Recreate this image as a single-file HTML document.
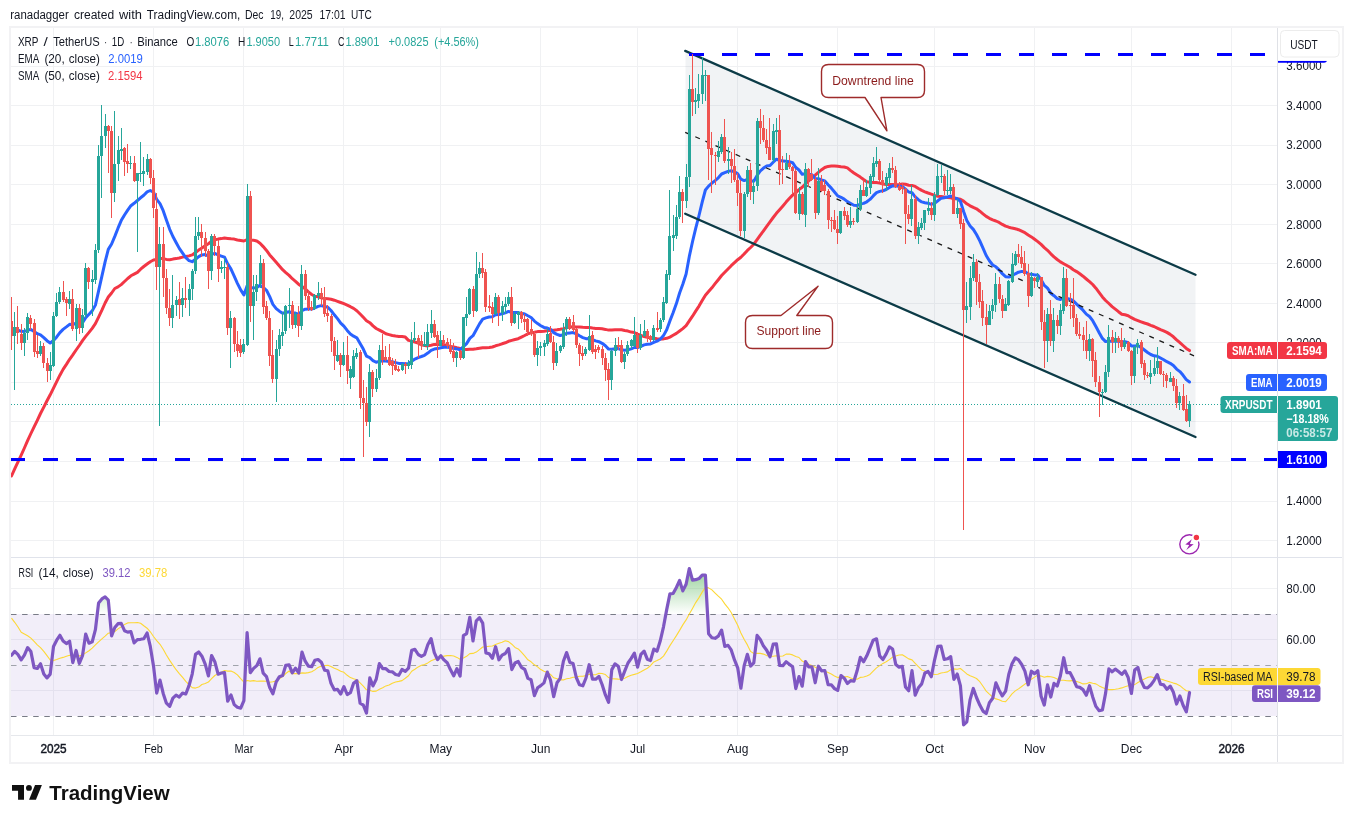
<!DOCTYPE html>
<html><head><meta charset="utf-8"><title>XRP chart</title>
<style>html,body{margin:0;padding:0;background:#fff}body{width:1353px;height:823px;overflow:hidden}svg{display:block;will-change:transform}</style></head>
<body>
<svg width="1353" height="823" viewBox="0 0 1353 823">
<rect x="0" y="0" width="1353" height="823" fill="#fff"/>
<line x1="53.5" y1="28" x2="53.5" y2="735" stroke="#f0f1f3" stroke-width="1"/>
<line x1="153.5" y1="28" x2="153.5" y2="735" stroke="#f0f1f3" stroke-width="1"/>
<line x1="243.5" y1="28" x2="243.5" y2="735" stroke="#f0f1f3" stroke-width="1"/>
<line x1="343.5" y1="28" x2="343.5" y2="735" stroke="#f0f1f3" stroke-width="1"/>
<line x1="440.5" y1="28" x2="440.5" y2="735" stroke="#f0f1f3" stroke-width="1"/>
<line x1="540.5" y1="28" x2="540.5" y2="735" stroke="#f0f1f3" stroke-width="1"/>
<line x1="637.5" y1="28" x2="637.5" y2="735" stroke="#f0f1f3" stroke-width="1"/>
<line x1="737.5" y1="28" x2="737.5" y2="735" stroke="#f0f1f3" stroke-width="1"/>
<line x1="837.5" y1="28" x2="837.5" y2="735" stroke="#f0f1f3" stroke-width="1"/>
<line x1="934.5" y1="28" x2="934.5" y2="735" stroke="#f0f1f3" stroke-width="1"/>
<line x1="1034.5" y1="28" x2="1034.5" y2="735" stroke="#f0f1f3" stroke-width="1"/>
<line x1="1131.5" y1="28" x2="1131.5" y2="735" stroke="#f0f1f3" stroke-width="1"/>
<line x1="1231.5" y1="28" x2="1231.5" y2="735" stroke="#f0f1f3" stroke-width="1"/>
<line x1="11" y1="66.5" x2="1277" y2="66.5" stroke="#f0f1f3" stroke-width="1"/>
<line x1="11" y1="105.5" x2="1277" y2="105.5" stroke="#f0f1f3" stroke-width="1"/>
<line x1="11" y1="145.5" x2="1277" y2="145.5" stroke="#f0f1f3" stroke-width="1"/>
<line x1="11" y1="184.5" x2="1277" y2="184.5" stroke="#f0f1f3" stroke-width="1"/>
<line x1="11" y1="224.5" x2="1277" y2="224.5" stroke="#f0f1f3" stroke-width="1"/>
<line x1="11" y1="263.5" x2="1277" y2="263.5" stroke="#f0f1f3" stroke-width="1"/>
<line x1="11" y1="303.5" x2="1277" y2="303.5" stroke="#f0f1f3" stroke-width="1"/>
<line x1="11" y1="342.5" x2="1277" y2="342.5" stroke="#f0f1f3" stroke-width="1"/>
<line x1="11" y1="382.5" x2="1277" y2="382.5" stroke="#f0f1f3" stroke-width="1"/>
<line x1="11" y1="421.5" x2="1277" y2="421.5" stroke="#f0f1f3" stroke-width="1"/>
<line x1="11" y1="461.5" x2="1277" y2="461.5" stroke="#f0f1f3" stroke-width="1"/>
<line x1="11" y1="501.5" x2="1277" y2="501.5" stroke="#f0f1f3" stroke-width="1"/>
<line x1="11" y1="540.5" x2="1277" y2="540.5" stroke="#f0f1f3" stroke-width="1"/>
<line x1="11" y1="588.5" x2="1277" y2="588.5" stroke="#f0f1f3" stroke-width="1"/>
<line x1="11" y1="639.5" x2="1277" y2="639.5" stroke="#f0f1f3" stroke-width="1"/>
<line x1="11" y1="690.5" x2="1277" y2="690.5" stroke="#f0f1f3" stroke-width="1"/>
<rect x="11" y="614.0" width="1266.5" height="102.0" fill="#7e57c2" fill-opacity="0.1"/>
<polygon points="685.5,50.9 1195.5,274.8 1195.5,437 685.5,213.7" fill="#73879b" fill-opacity="0.1"/>
<line x1="11" y1="404.5" x2="1277" y2="404.5" stroke="#26a69a" stroke-width="1" stroke-dasharray="1 2"/>
<path d="M11.5,476.0 L14.7,468.9 L18.0,461.9 L21.2,455.1 L24.4,448.0 L27.6,440.7 L30.9,433.5 L34.1,426.9 L37.3,420.3 L40.5,413.5 L43.8,407.1 L47.0,400.8 L50.2,394.8 L53.5,388.1 L56.7,381.6 L59.9,375.2 L63.1,369.4 L66.4,364.4 L69.6,359.3 L72.8,354.9 L76.1,350.0 L79.3,345.5 L82.5,340.7 L85.7,336.4 L89.0,332.4 L92.2,328.3 L95.4,323.7 L98.6,317.1 L101.9,310.2 L105.1,303.0 L108.3,297.0 L111.6,293.0 L114.8,288.5 L118.0,286.9 L121.2,284.6 L124.5,281.5 L127.7,278.5 L130.9,275.8 L134.1,274.1 L137.4,272.4 L140.6,269.2 L143.8,266.5 L147.1,264.0 L150.3,261.7 L153.5,260.0 L156.7,259.5 L160.0,258.5 L163.2,258.6 L166.4,259.4 L169.7,259.7 L172.9,259.1 L176.1,258.6 L179.3,258.0 L182.6,257.1 L185.8,256.5 L189.0,255.9 L192.2,254.9 L195.5,252.6 L198.7,250.1 L201.9,248.0 L205.2,245.7 L208.4,243.7 L211.6,241.2 L214.8,239.8 L218.1,239.1 L221.3,238.6 L224.5,238.0 L227.7,238.4 L231.0,238.8 L234.2,239.1 L237.4,240.0 L240.7,240.5 L243.9,241.0 L247.1,239.6 L250.3,240.1 L253.6,240.3 L256.8,241.0 L260.0,243.2 L263.2,246.6 L266.5,250.4 L269.7,254.9 L272.9,258.6 L276.2,262.3 L279.4,266.0 L282.6,269.7 L285.8,272.6 L289.1,275.4 L292.3,278.7 L295.5,281.3 L298.8,284.4 L302.0,286.4 L305.2,288.9 L308.4,291.9 L311.7,294.5 L314.9,296.3 L318.1,296.8 L321.3,297.9 L324.6,298.6 L327.8,298.7 L331.0,299.2 L334.3,300.2 L337.5,301.3 L340.7,302.5 L343.9,303.7 L347.2,305.1 L350.4,306.7 L353.6,308.4 L356.8,310.7 L360.1,314.0 L363.3,317.3 L366.5,320.7 L369.8,322.7 L373.0,325.8 L376.2,328.5 L379.4,330.1 L382.7,331.9 L385.9,333.8 L389.1,334.6 L392.3,335.5 L395.6,336.0 L398.8,336.4 L402.0,336.6 L405.3,337.1 L408.5,340.4 L411.7,341.1 L414.9,342.0 L418.2,343.2 L421.4,344.9 L424.6,345.6 L427.8,345.9 L431.1,345.2 L434.3,344.4 L437.5,344.3 L440.8,344.4 L444.0,344.6 L447.2,345.4 L450.4,346.4 L453.7,347.0 L456.9,347.8 L460.1,348.4 L463.4,349.2 L466.6,349.6 L469.8,349.2 L473.0,349.2 L476.3,348.8 L479.5,348.3 L482.7,347.8 L485.9,347.7 L489.2,347.5 L492.4,347.0 L495.6,345.8 L498.9,344.9 L502.1,343.8 L505.3,342.8 L508.5,341.3 L511.8,340.4 L515.0,339.5 L518.2,338.7 L521.4,337.1 L524.7,335.5 L527.9,333.7 L531.1,332.9 L534.4,332.3 L537.6,331.6 L540.8,331.6 L544.0,331.2 L547.3,330.7 L550.5,330.2 L553.7,330.2 L557.0,329.8 L560.2,329.3 L563.4,328.6 L566.6,327.7 L569.9,327.0 L573.1,326.8 L576.3,326.9 L579.5,327.1 L582.8,327.3 L586.0,327.4 L589.2,327.5 L592.5,328.1 L595.7,328.4 L598.9,328.5 L602.1,328.8 L605.4,329.4 L608.6,330.1 L611.8,330.0 L615.0,329.8 L618.3,329.7 L621.5,329.7 L624.7,330.5 L628.0,331.1 L631.2,332.1 L634.4,332.6 L637.6,334.1 L640.9,335.4 L644.1,336.6 L647.3,337.2 L650.5,337.9 L653.8,338.2 L657.0,338.8 L660.2,339.0 L663.5,338.9 L666.7,338.3 L669.9,337.1 L673.1,335.3 L676.4,333.4 L679.6,331.0 L682.8,328.6 L686.1,325.7 L689.3,320.9 L692.5,316.2 L695.7,311.1 L699.0,306.1 L702.2,300.6 L705.4,295.3 L708.6,291.6 L711.9,287.8 L715.1,283.7 L718.3,279.7 L721.6,275.5 L724.8,272.2 L728.0,269.0 L731.2,265.7 L734.5,262.7 L737.7,259.7 L740.9,257.2 L744.1,254.0 L747.4,250.4 L750.6,247.5 L753.8,244.2 L757.1,239.6 L760.3,235.1 L763.5,230.8 L766.7,226.3 L770.0,221.9 L773.2,217.5 L776.4,213.3 L779.6,209.7 L782.9,205.9 L786.1,202.1 L789.3,198.5 L792.6,195.1 L795.8,192.7 L799.0,189.6 L802.2,187.2 L805.5,183.9 L808.7,180.8 L811.9,177.6 L815.2,175.2 L818.4,172.3 L821.6,169.7 L824.8,167.5 L828.1,166.4 L831.3,166.1 L834.5,166.0 L837.7,166.3 L841.0,166.7 L844.2,167.0 L847.4,167.9 L850.7,170.6 L853.9,173.0 L857.1,175.1 L860.3,177.1 L863.6,179.5 L866.8,181.7 L870.0,182.3 L873.2,182.4 L876.5,182.5 L879.7,183.1 L882.9,184.0 L886.2,184.4 L889.4,184.5 L892.6,184.6 L895.8,184.8 L899.1,184.7 L902.3,183.9 L905.5,184.3 L908.7,185.3 L912.0,185.4 L915.2,186.4 L918.4,188.5 L921.7,190.4 L924.9,191.8 L928.1,193.0 L931.3,194.1 L934.6,195.4 L937.8,196.3 L941.0,196.4 L944.2,196.9 L947.5,197.4 L950.7,197.8 L953.9,198.7 L957.2,198.6 L960.4,199.2 L963.6,201.1 L966.8,203.8 L970.1,205.8 L973.3,207.4 L976.5,208.8 L979.8,211.2 L983.0,213.8 L986.2,216.4 L989.4,218.3 L992.7,219.9 L995.9,221.0 L999.1,222.4 L1002.3,224.4 L1005.6,226.1 L1008.8,227.2 L1012.0,228.1 L1015.3,228.7 L1018.5,229.7 L1021.7,231.2 L1024.9,232.7 L1028.2,234.9 L1031.4,236.9 L1034.6,239.3 L1037.8,241.6 L1041.1,244.4 L1044.3,247.6 L1047.5,250.3 L1050.8,253.8 L1054.0,256.8 L1057.2,259.5 L1060.4,261.9 L1063.7,263.7 L1066.9,265.5 L1070.1,267.3 L1073.3,269.7 L1076.6,271.6 L1079.8,273.8 L1083.0,276.2 L1086.3,279.0 L1089.5,281.6 L1092.7,284.5 L1095.9,288.2 L1099.2,292.6 L1102.4,296.9 L1105.6,300.5 L1108.9,303.5 L1112.1,306.6 L1115.3,309.1 L1118.5,311.7 L1121.8,314.2 L1125.0,314.8 L1128.2,315.7 L1131.4,317.7 L1134.7,319.4 L1137.9,320.6 L1141.1,321.8 L1144.4,323.0 L1147.6,324.0 L1150.8,325.3 L1154.0,326.5 L1157.3,328.1 L1160.5,329.6 L1163.7,330.9 L1166.9,332.4 L1170.2,334.4 L1173.4,336.8 L1176.6,339.8 L1179.9,342.6 L1183.1,345.5 L1186.3,348.4 L1189.5,350.6" fill="none" stroke="#f23645" stroke-width="3.0" stroke-linejoin="round" stroke-linecap="round"/>
<path d="M11.5,330.2 L14.7,329.9 L18.0,330.1 L21.2,331.3 L24.4,331.5 L27.6,330.1 L30.9,329.5 L34.1,331.6 L37.3,333.7 L40.5,334.8 L43.8,337.6 L47.0,340.7 L50.2,343.0 L53.5,340.5 L56.7,336.9 L59.9,332.6 L63.1,329.4 L66.4,326.9 L69.6,324.3 L72.8,324.7 L76.1,323.1 L79.3,323.6 L82.5,322.8 L85.7,317.6 L89.0,314.2 L92.2,310.9 L95.4,305.1 L98.6,290.9 L101.9,276.2 L105.1,261.9 L108.3,249.4 L111.6,244.0 L114.8,236.4 L118.0,228.2 L121.2,220.6 L124.5,215.0 L127.7,210.2 L130.9,205.7 L134.1,203.3 L137.4,200.5 L140.6,197.8 L143.8,195.3 L147.1,191.9 L150.3,190.5 L153.5,192.2 L156.7,199.3 L160.0,203.6 L163.2,210.7 L166.4,219.9 L169.7,229.3 L172.9,236.5 L176.1,242.5 L179.3,248.4 L182.6,253.2 L185.8,257.7 L189.0,260.6 L192.2,261.7 L195.5,259.3 L198.7,256.6 L201.9,254.9 L205.2,254.5 L208.4,256.1 L211.6,254.2 L214.8,253.4 L218.1,255.0 L221.3,256.1 L224.5,257.2 L227.7,263.9 L231.0,269.1 L234.2,276.2 L237.4,283.3 L240.7,289.9 L243.9,295.0 L247.1,285.7 L250.3,287.6 L253.6,288.0 L256.8,287.6 L260.0,285.3 L263.2,287.4 L266.5,290.3 L269.7,296.6 L272.9,304.4 L276.2,308.6 L279.4,311.2 L282.6,313.2 L285.8,312.5 L289.1,311.7 L292.3,313.0 L295.5,313.1 L298.8,314.4 L302.0,310.6 L305.2,309.2 L308.4,309.1 L311.7,309.1 L314.9,307.8 L318.1,306.4 L321.3,305.6 L324.6,306.5 L327.8,307.3 L331.0,310.5 L334.3,314.8 L337.5,318.6 L340.7,323.1 L343.9,326.1 L347.2,330.4 L350.4,334.0 L353.6,336.2 L356.8,337.8 L360.1,343.5 L363.3,349.1 L366.5,356.1 L369.8,357.6 L373.0,360.6 L376.2,362.3 L379.4,361.2 L382.7,361.1 L385.9,361.0 L389.1,361.4 L392.3,361.8 L395.6,362.6 L398.8,363.4 L402.0,363.4 L405.3,363.7 L408.5,363.6 L411.7,361.3 L414.9,359.1 L418.2,357.6 L421.4,356.5 L424.6,355.3 L427.8,353.1 L431.1,350.4 L434.3,349.1 L437.5,348.6 L440.8,347.7 L444.0,347.3 L447.2,347.2 L450.4,347.6 L453.7,348.6 L456.9,348.9 L460.1,349.8 L463.4,346.7 L466.6,343.6 L469.8,338.4 L473.0,335.7 L476.3,329.8 L479.5,323.9 L482.7,319.1 L485.9,317.9 L489.2,317.0 L492.4,316.7 L495.6,314.8 L498.9,314.6 L502.1,313.8 L505.3,312.9 L508.5,311.4 L511.8,312.5 L515.0,312.6 L518.2,312.6 L521.4,313.2 L524.7,314.0 L527.9,315.8 L531.1,317.5 L534.4,321.1 L537.6,323.6 L540.8,325.7 L544.0,327.4 L547.3,328.0 L550.5,329.4 L553.7,332.6 L557.0,334.3 L560.2,335.5 L563.4,334.8 L566.6,333.3 L569.9,332.9 L573.1,332.6 L576.3,333.8 L579.5,335.8 L582.8,337.6 L586.0,338.7 L589.2,338.4 L592.5,339.7 L595.7,340.9 L598.9,341.7 L602.1,343.3 L605.4,345.8 L608.6,349.1 L611.8,349.2 L615.0,348.8 L618.3,348.6 L621.5,349.8 L624.7,350.2 L628.0,349.7 L631.2,348.9 L634.4,347.5 L637.6,347.6 L640.9,346.4 L644.1,344.9 L647.3,344.3 L650.5,343.9 L653.8,342.4 L657.0,341.2 L660.2,339.2 L663.5,335.6 L666.7,329.8 L669.9,320.9 L673.1,312.7 L676.4,303.6 L679.6,293.0 L682.8,284.2 L686.1,274.0 L689.3,256.4 L692.5,241.8 L695.7,228.3 L699.0,215.5 L702.2,202.2 L705.4,190.0 L708.6,186.1 L711.9,183.2 L715.1,180.6 L718.3,177.8 L721.6,174.0 L724.8,172.7 L728.0,171.4 L731.2,170.8 L734.5,171.7 L737.7,173.8 L740.9,179.2 L744.1,180.6 L747.4,179.5 L750.6,180.7 L753.8,181.2 L757.1,175.5 L760.3,171.0 L763.5,168.1 L766.7,166.1 L770.0,165.5 L773.2,162.2 L776.4,159.2 L779.6,160.2 L782.9,161.1 L786.1,161.3 L789.3,161.8 L792.6,162.7 L795.8,167.5 L799.0,170.0 L802.2,174.3 L805.5,173.8 L808.7,174.3 L811.9,174.8 L815.2,178.4 L818.4,178.7 L821.6,179.9 L824.8,180.9 L828.1,184.7 L831.3,188.1 L834.5,192.0 L837.7,195.9 L841.0,197.3 L844.2,199.1 L847.4,201.6 L850.7,203.5 L853.9,205.3 L857.1,205.6 L860.3,204.1 L863.6,203.4 L866.8,201.8 L870.0,199.4 L873.2,195.9 L876.5,192.6 L879.7,191.4 L882.9,190.8 L886.2,189.5 L889.4,187.4 L892.6,185.8 L895.8,185.9 L899.1,186.3 L902.3,186.5 L905.5,189.1 L908.7,192.0 L912.0,192.7 L915.2,196.8 L918.4,199.7 L921.7,201.9 L924.9,202.7 L928.1,203.2 L931.3,204.3 L934.6,203.4 L937.8,200.8 L941.0,198.4 L944.2,197.7 L947.5,197.0 L950.7,196.0 L953.9,197.8 L957.2,198.8 L960.4,201.2 L963.6,211.5 L966.8,220.5 L970.1,226.0 L973.3,229.4 L976.5,234.5 L979.8,240.9 L983.0,248.2 L986.2,255.5 L989.4,260.8 L992.7,265.0 L995.9,266.8 L999.1,269.9 L1002.3,273.7 L1005.6,276.7 L1008.8,277.0 L1012.0,275.8 L1015.3,273.8 L1018.5,272.2 L1021.7,271.4 L1024.9,271.6 L1028.2,273.9 L1031.4,274.3 L1034.6,274.9 L1037.8,275.1 L1041.1,279.6 L1044.3,285.4 L1047.5,288.2 L1050.8,293.2 L1054.0,295.7 L1057.2,298.6 L1060.4,299.6 L1063.7,297.5 L1066.9,298.4 L1070.1,299.1 L1073.3,300.9 L1076.6,304.1 L1079.8,307.1 L1083.0,310.2 L1086.3,314.1 L1089.5,316.5 L1092.7,320.7 L1095.9,326.5 L1099.2,332.8 L1102.4,338.4 L1105.6,341.6 L1108.9,341.2 L1112.1,341.3 L1115.3,341.1 L1118.5,341.2 L1121.8,341.7 L1125.0,341.7 L1128.2,342.7 L1131.4,345.9 L1134.7,345.9 L1137.9,345.7 L1141.1,347.4 L1144.4,350.0 L1147.6,352.5 L1150.8,354.5 L1154.0,355.8 L1157.3,356.3 L1160.5,358.0 L1163.7,359.7 L1166.9,361.7 L1170.2,363.3 L1173.4,365.5 L1176.6,369.1 L1179.9,371.6 L1183.1,375.3 L1186.3,379.6 L1189.5,382.0" fill="none" stroke="#2962ff" stroke-width="3.0" stroke-linejoin="round" stroke-linecap="round"/>
<line x1="685.2" y1="50.9" x2="1195.5" y2="274.8" stroke="#0c3b47" stroke-width="2.3" stroke-linecap="round"/>
<line x1="685.2" y1="213.7" x2="1195.5" y2="437" stroke="#0c3b47" stroke-width="2.3" stroke-linecap="round"/>
<line x1="685.2" y1="132.3" x2="1194" y2="355.8" stroke="#1a1a1a" stroke-width="1.3" stroke-dasharray="5 6.02"/>
<line x1="689" y1="54.5" x2="1277" y2="54.5" stroke="#0000ff" stroke-width="3" stroke-dasharray="15 18"/>
<line x1="10" y1="459.5" x2="1277" y2="459.5" stroke="#0000ff" stroke-width="3" stroke-dasharray="15 18"/>
<g shape-rendering="crispEdges"><rect x="11" y="297" width="1" height="53" fill="#ef5350"/>
<rect x="10" y="321" width="3" height="15" fill="#ef5350"/>
<rect x="14" y="312" width="1" height="78" fill="#26a69a"/>
<rect x="13" y="327" width="3" height="9" fill="#26a69a"/>
<rect x="17" y="306" width="1" height="38" fill="#ef5350"/>
<rect x="16" y="327" width="3" height="6" fill="#ef5350"/>
<rect x="21" y="324" width="1" height="26" fill="#ef5350"/>
<rect x="20" y="334" width="3" height="9" fill="#ef5350"/>
<rect x="24" y="328" width="1" height="28" fill="#26a69a"/>
<rect x="23" y="333" width="3" height="10" fill="#26a69a"/>
<rect x="27" y="313" width="1" height="27" fill="#26a69a"/>
<rect x="26" y="317" width="3" height="16" fill="#26a69a"/>
<rect x="30" y="315" width="1" height="15" fill="#ef5350"/>
<rect x="29" y="318" width="3" height="6" fill="#ef5350"/>
<rect x="34" y="319" width="1" height="38" fill="#ef5350"/>
<rect x="33" y="323" width="3" height="29" fill="#ef5350"/>
<rect x="37" y="335" width="1" height="23" fill="#ef5350"/>
<rect x="36" y="351" width="3" height="3" fill="#ef5350"/>
<rect x="40" y="341" width="1" height="15" fill="#26a69a"/>
<rect x="39" y="346" width="3" height="8" fill="#26a69a"/>
<rect x="43" y="343" width="1" height="25" fill="#ef5350"/>
<rect x="42" y="346" width="3" height="17" fill="#ef5350"/>
<rect x="47" y="358" width="1" height="24" fill="#ef5350"/>
<rect x="46" y="363" width="3" height="8" fill="#ef5350"/>
<rect x="50" y="352" width="1" height="28" fill="#26a69a"/>
<rect x="49" y="365" width="3" height="6" fill="#26a69a"/>
<rect x="53" y="312" width="1" height="55" fill="#26a69a"/>
<rect x="52" y="316" width="3" height="50" fill="#26a69a"/>
<rect x="56" y="293" width="1" height="24" fill="#26a69a"/>
<rect x="55" y="302" width="3" height="14" fill="#26a69a"/>
<rect x="59" y="287" width="1" height="17" fill="#26a69a"/>
<rect x="58" y="292" width="3" height="10" fill="#26a69a"/>
<rect x="63" y="281" width="1" height="21" fill="#ef5350"/>
<rect x="62" y="292" width="3" height="8" fill="#ef5350"/>
<rect x="66" y="297" width="1" height="19" fill="#ef5350"/>
<rect x="65" y="299" width="3" height="4" fill="#ef5350"/>
<rect x="69" y="291" width="1" height="18" fill="#26a69a"/>
<rect x="68" y="299" width="3" height="5" fill="#26a69a"/>
<rect x="72" y="289" width="1" height="42" fill="#ef5350"/>
<rect x="71" y="299" width="3" height="30" fill="#ef5350"/>
<rect x="76" y="304" width="1" height="37" fill="#26a69a"/>
<rect x="75" y="308" width="3" height="21" fill="#26a69a"/>
<rect x="79" y="304" width="1" height="30" fill="#ef5350"/>
<rect x="78" y="308" width="3" height="20" fill="#ef5350"/>
<rect x="82" y="309" width="1" height="24" fill="#26a69a"/>
<rect x="81" y="315" width="3" height="13" fill="#26a69a"/>
<rect x="85" y="263" width="1" height="55" fill="#26a69a"/>
<rect x="84" y="268" width="3" height="47" fill="#26a69a"/>
<rect x="88" y="267" width="1" height="22" fill="#ef5350"/>
<rect x="87" y="268" width="3" height="14" fill="#ef5350"/>
<rect x="92" y="270" width="1" height="46" fill="#26a69a"/>
<rect x="91" y="279" width="3" height="3" fill="#26a69a"/>
<rect x="95" y="244" width="1" height="40" fill="#26a69a"/>
<rect x="94" y="250" width="3" height="30" fill="#26a69a"/>
<rect x="98" y="145" width="1" height="108" fill="#26a69a"/>
<rect x="97" y="156" width="3" height="94" fill="#26a69a"/>
<rect x="101" y="105" width="1" height="93" fill="#26a69a"/>
<rect x="100" y="136" width="3" height="20" fill="#26a69a"/>
<rect x="105" y="114" width="1" height="34" fill="#26a69a"/>
<rect x="104" y="126" width="3" height="10" fill="#26a69a"/>
<rect x="108" y="125" width="1" height="48" fill="#ef5350"/>
<rect x="107" y="126" width="3" height="5" fill="#ef5350"/>
<rect x="111" y="126" width="1" height="92" fill="#ef5350"/>
<rect x="110" y="131" width="3" height="62" fill="#ef5350"/>
<rect x="114" y="111" width="1" height="91" fill="#26a69a"/>
<rect x="113" y="164" width="3" height="29" fill="#26a69a"/>
<rect x="118" y="136" width="1" height="45" fill="#26a69a"/>
<rect x="117" y="150" width="3" height="14" fill="#26a69a"/>
<rect x="121" y="128" width="1" height="32" fill="#26a69a"/>
<rect x="120" y="149" width="3" height="2" fill="#26a69a"/>
<rect x="124" y="147" width="1" height="29" fill="#ef5350"/>
<rect x="123" y="148" width="3" height="14" fill="#ef5350"/>
<rect x="127" y="144" width="1" height="29" fill="#ef5350"/>
<rect x="126" y="161" width="3" height="3" fill="#ef5350"/>
<rect x="130" y="156" width="1" height="13" fill="#26a69a"/>
<rect x="129" y="163" width="3" height="1" fill="#26a69a"/>
<rect x="134" y="156" width="1" height="26" fill="#ef5350"/>
<rect x="133" y="163" width="3" height="18" fill="#ef5350"/>
<rect x="137" y="173" width="1" height="79" fill="#26a69a"/>
<rect x="136" y="173" width="3" height="8" fill="#26a69a"/>
<rect x="140" y="142" width="1" height="40" fill="#26a69a"/>
<rect x="139" y="173" width="3" height="1" fill="#26a69a"/>
<rect x="143" y="157" width="1" height="29" fill="#26a69a"/>
<rect x="142" y="171" width="3" height="3" fill="#26a69a"/>
<rect x="147" y="154" width="1" height="21" fill="#26a69a"/>
<rect x="146" y="159" width="3" height="13" fill="#26a69a"/>
<rect x="150" y="158" width="1" height="26" fill="#ef5350"/>
<rect x="149" y="159" width="3" height="19" fill="#ef5350"/>
<rect x="153" y="170" width="1" height="48" fill="#ef5350"/>
<rect x="152" y="178" width="3" height="30" fill="#ef5350"/>
<rect x="156" y="193" width="1" height="97" fill="#ef5350"/>
<rect x="155" y="209" width="3" height="58" fill="#ef5350"/>
<rect x="159" y="227" width="1" height="199" fill="#26a69a"/>
<rect x="158" y="244" width="3" height="23" fill="#26a69a"/>
<rect x="163" y="227" width="1" height="70" fill="#ef5350"/>
<rect x="162" y="244" width="3" height="34" fill="#ef5350"/>
<rect x="166" y="269" width="1" height="45" fill="#ef5350"/>
<rect x="165" y="278" width="3" height="30" fill="#ef5350"/>
<rect x="169" y="289" width="1" height="37" fill="#ef5350"/>
<rect x="168" y="308" width="3" height="10" fill="#ef5350"/>
<rect x="172" y="275" width="1" height="53" fill="#26a69a"/>
<rect x="171" y="305" width="3" height="13" fill="#26a69a"/>
<rect x="176" y="296" width="1" height="20" fill="#26a69a"/>
<rect x="175" y="300" width="3" height="5" fill="#26a69a"/>
<rect x="179" y="282" width="1" height="37" fill="#ef5350"/>
<rect x="178" y="299" width="3" height="6" fill="#ef5350"/>
<rect x="182" y="288" width="1" height="29" fill="#26a69a"/>
<rect x="181" y="298" width="3" height="7" fill="#26a69a"/>
<rect x="185" y="277" width="1" height="31" fill="#ef5350"/>
<rect x="184" y="298" width="3" height="2" fill="#ef5350"/>
<rect x="189" y="284" width="1" height="32" fill="#26a69a"/>
<rect x="188" y="289" width="3" height="11" fill="#26a69a"/>
<rect x="192" y="269" width="1" height="31" fill="#26a69a"/>
<rect x="191" y="271" width="3" height="18" fill="#26a69a"/>
<rect x="195" y="217" width="1" height="57" fill="#26a69a"/>
<rect x="194" y="236" width="3" height="35" fill="#26a69a"/>
<rect x="198" y="217" width="1" height="23" fill="#26a69a"/>
<rect x="197" y="232" width="3" height="4" fill="#26a69a"/>
<rect x="201" y="224" width="1" height="33" fill="#ef5350"/>
<rect x="200" y="232" width="3" height="6" fill="#ef5350"/>
<rect x="205" y="232" width="1" height="25" fill="#ef5350"/>
<rect x="204" y="238" width="3" height="13" fill="#ef5350"/>
<rect x="208" y="249" width="1" height="40" fill="#ef5350"/>
<rect x="207" y="251" width="3" height="20" fill="#ef5350"/>
<rect x="211" y="234" width="1" height="46" fill="#26a69a"/>
<rect x="210" y="236" width="3" height="35" fill="#26a69a"/>
<rect x="214" y="234" width="1" height="22" fill="#ef5350"/>
<rect x="213" y="236" width="3" height="10" fill="#ef5350"/>
<rect x="218" y="240" width="1" height="42" fill="#ef5350"/>
<rect x="217" y="246" width="3" height="23" fill="#ef5350"/>
<rect x="221" y="261" width="1" height="12" fill="#26a69a"/>
<rect x="220" y="267" width="3" height="2" fill="#26a69a"/>
<rect x="224" y="258" width="1" height="21" fill="#26a69a"/>
<rect x="223" y="267" width="3" height="1" fill="#26a69a"/>
<rect x="227" y="263" width="1" height="72" fill="#ef5350"/>
<rect x="226" y="267" width="3" height="61" fill="#ef5350"/>
<rect x="230" y="311" width="1" height="57" fill="#26a69a"/>
<rect x="229" y="318" width="3" height="10" fill="#26a69a"/>
<rect x="234" y="317" width="1" height="35" fill="#ef5350"/>
<rect x="233" y="318" width="3" height="26" fill="#ef5350"/>
<rect x="237" y="331" width="1" height="26" fill="#ef5350"/>
<rect x="236" y="344" width="3" height="7" fill="#ef5350"/>
<rect x="240" y="339" width="1" height="18" fill="#ef5350"/>
<rect x="239" y="345" width="3" height="8" fill="#ef5350"/>
<rect x="243" y="339" width="1" height="15" fill="#26a69a"/>
<rect x="242" y="344" width="3" height="8" fill="#26a69a"/>
<rect x="247" y="184" width="1" height="162" fill="#26a69a"/>
<rect x="246" y="196" width="3" height="149" fill="#26a69a"/>
<rect x="250" y="191" width="1" height="131" fill="#ef5350"/>
<rect x="249" y="196" width="3" height="110" fill="#ef5350"/>
<rect x="253" y="275" width="1" height="65" fill="#26a69a"/>
<rect x="252" y="292" width="3" height="14" fill="#26a69a"/>
<rect x="256" y="275" width="1" height="26" fill="#26a69a"/>
<rect x="255" y="284" width="3" height="8" fill="#26a69a"/>
<rect x="260" y="255" width="1" height="33" fill="#26a69a"/>
<rect x="259" y="263" width="3" height="21" fill="#26a69a"/>
<rect x="263" y="259" width="1" height="55" fill="#ef5350"/>
<rect x="262" y="263" width="3" height="44" fill="#ef5350"/>
<rect x="266" y="301" width="1" height="19" fill="#ef5350"/>
<rect x="265" y="306" width="3" height="12" fill="#ef5350"/>
<rect x="269" y="311" width="1" height="55" fill="#ef5350"/>
<rect x="268" y="318" width="3" height="38" fill="#ef5350"/>
<rect x="272" y="330" width="1" height="53" fill="#ef5350"/>
<rect x="271" y="355" width="3" height="24" fill="#ef5350"/>
<rect x="276" y="340" width="1" height="62" fill="#26a69a"/>
<rect x="275" y="349" width="3" height="30" fill="#26a69a"/>
<rect x="279" y="329" width="1" height="27" fill="#26a69a"/>
<rect x="278" y="335" width="3" height="14" fill="#26a69a"/>
<rect x="282" y="312" width="1" height="34" fill="#26a69a"/>
<rect x="281" y="332" width="3" height="4" fill="#26a69a"/>
<rect x="285" y="305" width="1" height="29" fill="#26a69a"/>
<rect x="284" y="306" width="3" height="25" fill="#26a69a"/>
<rect x="289" y="288" width="1" height="40" fill="#26a69a"/>
<rect x="288" y="305" width="3" height="1" fill="#26a69a"/>
<rect x="292" y="301" width="1" height="28" fill="#ef5350"/>
<rect x="291" y="305" width="3" height="20" fill="#ef5350"/>
<rect x="295" y="312" width="1" height="16" fill="#26a69a"/>
<rect x="294" y="314" width="3" height="11" fill="#26a69a"/>
<rect x="298" y="306" width="1" height="31" fill="#ef5350"/>
<rect x="297" y="314" width="3" height="12" fill="#ef5350"/>
<rect x="301" y="265" width="1" height="65" fill="#26a69a"/>
<rect x="300" y="274" width="3" height="52" fill="#26a69a"/>
<rect x="305" y="270" width="1" height="30" fill="#ef5350"/>
<rect x="304" y="274" width="3" height="22" fill="#ef5350"/>
<rect x="308" y="291" width="1" height="20" fill="#ef5350"/>
<rect x="307" y="296" width="3" height="12" fill="#ef5350"/>
<rect x="311" y="301" width="1" height="10" fill="#ef5350"/>
<rect x="310" y="307" width="3" height="3" fill="#ef5350"/>
<rect x="314" y="294" width="1" height="16" fill="#26a69a"/>
<rect x="313" y="295" width="3" height="14" fill="#26a69a"/>
<rect x="318" y="282" width="1" height="18" fill="#26a69a"/>
<rect x="317" y="293" width="3" height="3" fill="#26a69a"/>
<rect x="321" y="288" width="1" height="18" fill="#ef5350"/>
<rect x="320" y="293" width="3" height="5" fill="#ef5350"/>
<rect x="324" y="287" width="1" height="30" fill="#ef5350"/>
<rect x="323" y="297" width="3" height="17" fill="#ef5350"/>
<rect x="327" y="305" width="1" height="17" fill="#ef5350"/>
<rect x="326" y="313" width="3" height="3" fill="#ef5350"/>
<rect x="331" y="314" width="1" height="38" fill="#ef5350"/>
<rect x="330" y="316" width="3" height="25" fill="#ef5350"/>
<rect x="334" y="337" width="1" height="33" fill="#ef5350"/>
<rect x="333" y="341" width="3" height="15" fill="#ef5350"/>
<rect x="337" y="340" width="1" height="22" fill="#26a69a"/>
<rect x="336" y="355" width="3" height="6" fill="#26a69a"/>
<rect x="340" y="353" width="1" height="24" fill="#ef5350"/>
<rect x="339" y="355" width="3" height="10" fill="#ef5350"/>
<rect x="343" y="342" width="1" height="24" fill="#26a69a"/>
<rect x="342" y="355" width="3" height="10" fill="#26a69a"/>
<rect x="347" y="336" width="1" height="48" fill="#ef5350"/>
<rect x="346" y="355" width="3" height="16" fill="#ef5350"/>
<rect x="350" y="366" width="1" height="23" fill="#26a69a"/>
<rect x="349" y="369" width="3" height="9" fill="#26a69a"/>
<rect x="353" y="350" width="1" height="28" fill="#26a69a"/>
<rect x="352" y="356" width="3" height="21" fill="#26a69a"/>
<rect x="356" y="348" width="1" height="11" fill="#26a69a"/>
<rect x="355" y="353" width="3" height="4" fill="#26a69a"/>
<rect x="360" y="350" width="1" height="59" fill="#ef5350"/>
<rect x="359" y="352" width="3" height="46" fill="#ef5350"/>
<rect x="363" y="380" width="1" height="77" fill="#ef5350"/>
<rect x="362" y="398" width="3" height="5" fill="#ef5350"/>
<rect x="366" y="387" width="1" height="39" fill="#ef5350"/>
<rect x="365" y="403" width="3" height="19" fill="#ef5350"/>
<rect x="369" y="364" width="1" height="73" fill="#26a69a"/>
<rect x="368" y="372" width="3" height="50" fill="#26a69a"/>
<rect x="372" y="370" width="1" height="27" fill="#ef5350"/>
<rect x="371" y="372" width="3" height="17" fill="#ef5350"/>
<rect x="376" y="369" width="1" height="23" fill="#26a69a"/>
<rect x="375" y="378" width="3" height="11" fill="#26a69a"/>
<rect x="379" y="345" width="1" height="35" fill="#26a69a"/>
<rect x="378" y="350" width="3" height="28" fill="#26a69a"/>
<rect x="382" y="334" width="1" height="31" fill="#ef5350"/>
<rect x="381" y="350" width="3" height="10" fill="#ef5350"/>
<rect x="385" y="346" width="1" height="15" fill="#ef5350"/>
<rect x="384" y="357" width="3" height="3" fill="#ef5350"/>
<rect x="389" y="344" width="1" height="22" fill="#ef5350"/>
<rect x="388" y="357" width="3" height="8" fill="#ef5350"/>
<rect x="392" y="358" width="1" height="17" fill="#ef5350"/>
<rect x="391" y="361" width="3" height="5" fill="#ef5350"/>
<rect x="395" y="359" width="1" height="12" fill="#ef5350"/>
<rect x="394" y="365" width="3" height="5" fill="#ef5350"/>
<rect x="398" y="366" width="1" height="6" fill="#ef5350"/>
<rect x="397" y="369" width="3" height="2" fill="#ef5350"/>
<rect x="402" y="363" width="1" height="8" fill="#26a69a"/>
<rect x="401" y="364" width="3" height="6" fill="#26a69a"/>
<rect x="405" y="362" width="1" height="12" fill="#ef5350"/>
<rect x="404" y="364" width="3" height="2" fill="#ef5350"/>
<rect x="408" y="360" width="1" height="9" fill="#26a69a"/>
<rect x="407" y="363" width="3" height="3" fill="#26a69a"/>
<rect x="411" y="332" width="1" height="37" fill="#26a69a"/>
<rect x="410" y="340" width="3" height="25" fill="#26a69a"/>
<rect x="414" y="322" width="1" height="20" fill="#26a69a"/>
<rect x="413" y="338" width="3" height="2" fill="#26a69a"/>
<rect x="418" y="335" width="1" height="23" fill="#ef5350"/>
<rect x="417" y="338" width="3" height="6" fill="#ef5350"/>
<rect x="421" y="335" width="1" height="15" fill="#ef5350"/>
<rect x="420" y="341" width="3" height="5" fill="#ef5350"/>
<rect x="424" y="332" width="1" height="15" fill="#26a69a"/>
<rect x="423" y="344" width="3" height="2" fill="#26a69a"/>
<rect x="427" y="324" width="1" height="26" fill="#26a69a"/>
<rect x="426" y="332" width="3" height="14" fill="#26a69a"/>
<rect x="431" y="310" width="1" height="28" fill="#26a69a"/>
<rect x="430" y="324" width="3" height="9" fill="#26a69a"/>
<rect x="434" y="320" width="1" height="18" fill="#ef5350"/>
<rect x="433" y="324" width="3" height="13" fill="#ef5350"/>
<rect x="437" y="331" width="1" height="27" fill="#ef5350"/>
<rect x="436" y="335" width="3" height="9" fill="#ef5350"/>
<rect x="440" y="331" width="1" height="15" fill="#26a69a"/>
<rect x="439" y="340" width="3" height="6" fill="#26a69a"/>
<rect x="443" y="335" width="1" height="10" fill="#ef5350"/>
<rect x="442" y="340" width="3" height="3" fill="#ef5350"/>
<rect x="447" y="338" width="1" height="10" fill="#ef5350"/>
<rect x="446" y="342" width="3" height="4" fill="#ef5350"/>
<rect x="450" y="339" width="1" height="15" fill="#ef5350"/>
<rect x="449" y="345" width="3" height="7" fill="#ef5350"/>
<rect x="453" y="343" width="1" height="19" fill="#ef5350"/>
<rect x="452" y="351" width="3" height="7" fill="#ef5350"/>
<rect x="456" y="351" width="1" height="16" fill="#26a69a"/>
<rect x="455" y="352" width="3" height="6" fill="#26a69a"/>
<rect x="460" y="350" width="1" height="10" fill="#ef5350"/>
<rect x="459" y="351" width="3" height="7" fill="#ef5350"/>
<rect x="463" y="317" width="1" height="42" fill="#26a69a"/>
<rect x="462" y="317" width="3" height="41" fill="#26a69a"/>
<rect x="466" y="297" width="1" height="29" fill="#26a69a"/>
<rect x="465" y="314" width="3" height="4" fill="#26a69a"/>
<rect x="469" y="288" width="1" height="27" fill="#26a69a"/>
<rect x="468" y="289" width="3" height="25" fill="#26a69a"/>
<rect x="473" y="286" width="1" height="31" fill="#ef5350"/>
<rect x="472" y="289" width="3" height="22" fill="#ef5350"/>
<rect x="476" y="252" width="1" height="60" fill="#26a69a"/>
<rect x="475" y="274" width="3" height="37" fill="#26a69a"/>
<rect x="479" y="262" width="1" height="16" fill="#26a69a"/>
<rect x="478" y="268" width="3" height="6" fill="#26a69a"/>
<rect x="482" y="253" width="1" height="25" fill="#ef5350"/>
<rect x="481" y="268" width="3" height="5" fill="#ef5350"/>
<rect x="485" y="269" width="1" height="43" fill="#ef5350"/>
<rect x="484" y="272" width="3" height="35" fill="#ef5350"/>
<rect x="489" y="295" width="1" height="17" fill="#ef5350"/>
<rect x="488" y="306" width="3" height="2" fill="#ef5350"/>
<rect x="492" y="302" width="1" height="21" fill="#ef5350"/>
<rect x="491" y="307" width="3" height="7" fill="#ef5350"/>
<rect x="495" y="293" width="1" height="22" fill="#26a69a"/>
<rect x="494" y="297" width="3" height="17" fill="#26a69a"/>
<rect x="498" y="295" width="1" height="31" fill="#ef5350"/>
<rect x="497" y="297" width="3" height="16" fill="#ef5350"/>
<rect x="502" y="301" width="1" height="20" fill="#26a69a"/>
<rect x="501" y="306" width="3" height="7" fill="#26a69a"/>
<rect x="505" y="297" width="1" height="17" fill="#26a69a"/>
<rect x="504" y="304" width="3" height="3" fill="#26a69a"/>
<rect x="508" y="292" width="1" height="14" fill="#26a69a"/>
<rect x="507" y="297" width="3" height="7" fill="#26a69a"/>
<rect x="511" y="287" width="1" height="39" fill="#ef5350"/>
<rect x="510" y="297" width="3" height="26" fill="#ef5350"/>
<rect x="514" y="312" width="1" height="12" fill="#26a69a"/>
<rect x="513" y="314" width="3" height="9" fill="#26a69a"/>
<rect x="518" y="311" width="1" height="18" fill="#26a69a"/>
<rect x="517" y="312" width="3" height="3" fill="#26a69a"/>
<rect x="521" y="311" width="1" height="12" fill="#ef5350"/>
<rect x="520" y="312" width="3" height="7" fill="#ef5350"/>
<rect x="524" y="314" width="1" height="16" fill="#ef5350"/>
<rect x="523" y="319" width="3" height="3" fill="#ef5350"/>
<rect x="527" y="318" width="1" height="18" fill="#ef5350"/>
<rect x="526" y="319" width="3" height="13" fill="#ef5350"/>
<rect x="531" y="320" width="1" height="16" fill="#ef5350"/>
<rect x="530" y="329" width="3" height="5" fill="#ef5350"/>
<rect x="534" y="331" width="1" height="26" fill="#ef5350"/>
<rect x="533" y="334" width="3" height="21" fill="#ef5350"/>
<rect x="537" y="341" width="1" height="25" fill="#26a69a"/>
<rect x="536" y="348" width="3" height="7" fill="#26a69a"/>
<rect x="540" y="342" width="1" height="14" fill="#26a69a"/>
<rect x="539" y="346" width="3" height="2" fill="#26a69a"/>
<rect x="544" y="340" width="1" height="16" fill="#26a69a"/>
<rect x="543" y="343" width="3" height="4" fill="#26a69a"/>
<rect x="547" y="328" width="1" height="18" fill="#26a69a"/>
<rect x="546" y="334" width="3" height="10" fill="#26a69a"/>
<rect x="550" y="326" width="1" height="17" fill="#ef5350"/>
<rect x="549" y="333" width="3" height="9" fill="#ef5350"/>
<rect x="553" y="336" width="1" height="34" fill="#ef5350"/>
<rect x="552" y="342" width="3" height="21" fill="#ef5350"/>
<rect x="556" y="343" width="1" height="23" fill="#26a69a"/>
<rect x="555" y="351" width="3" height="12" fill="#26a69a"/>
<rect x="560" y="345" width="1" height="8" fill="#26a69a"/>
<rect x="559" y="346" width="3" height="5" fill="#26a69a"/>
<rect x="563" y="323" width="1" height="26" fill="#26a69a"/>
<rect x="562" y="329" width="3" height="18" fill="#26a69a"/>
<rect x="566" y="317" width="1" height="19" fill="#26a69a"/>
<rect x="565" y="319" width="3" height="10" fill="#26a69a"/>
<rect x="569" y="317" width="1" height="13" fill="#ef5350"/>
<rect x="568" y="319" width="3" height="10" fill="#ef5350"/>
<rect x="573" y="315" width="1" height="17" fill="#ef5350"/>
<rect x="572" y="322" width="3" height="8" fill="#ef5350"/>
<rect x="576" y="328" width="1" height="20" fill="#ef5350"/>
<rect x="575" y="329" width="3" height="16" fill="#ef5350"/>
<rect x="579" y="343" width="1" height="23" fill="#ef5350"/>
<rect x="578" y="345" width="3" height="9" fill="#ef5350"/>
<rect x="582" y="346" width="1" height="14" fill="#ef5350"/>
<rect x="581" y="353" width="3" height="3" fill="#ef5350"/>
<rect x="585" y="347" width="1" height="9" fill="#26a69a"/>
<rect x="584" y="349" width="3" height="5" fill="#26a69a"/>
<rect x="589" y="315" width="1" height="36" fill="#26a69a"/>
<rect x="588" y="336" width="3" height="14" fill="#26a69a"/>
<rect x="592" y="331" width="1" height="23" fill="#ef5350"/>
<rect x="591" y="335" width="3" height="17" fill="#ef5350"/>
<rect x="595" y="345" width="1" height="14" fill="#ef5350"/>
<rect x="594" y="349" width="3" height="3" fill="#ef5350"/>
<rect x="598" y="345" width="1" height="8" fill="#ef5350"/>
<rect x="597" y="347" width="3" height="3" fill="#ef5350"/>
<rect x="602" y="346" width="1" height="19" fill="#ef5350"/>
<rect x="601" y="349" width="3" height="9" fill="#ef5350"/>
<rect x="605" y="353" width="1" height="28" fill="#ef5350"/>
<rect x="604" y="358" width="3" height="12" fill="#ef5350"/>
<rect x="608" y="363" width="1" height="37" fill="#ef5350"/>
<rect x="607" y="369" width="3" height="11" fill="#ef5350"/>
<rect x="611" y="349" width="1" height="41" fill="#26a69a"/>
<rect x="610" y="351" width="3" height="29" fill="#26a69a"/>
<rect x="615" y="338" width="1" height="18" fill="#26a69a"/>
<rect x="614" y="345" width="3" height="6" fill="#26a69a"/>
<rect x="618" y="337" width="1" height="13" fill="#ef5350"/>
<rect x="617" y="345" width="3" height="2" fill="#ef5350"/>
<rect x="621" y="340" width="1" height="23" fill="#ef5350"/>
<rect x="620" y="345" width="3" height="17" fill="#ef5350"/>
<rect x="624" y="352" width="1" height="17" fill="#26a69a"/>
<rect x="623" y="354" width="3" height="8" fill="#26a69a"/>
<rect x="627" y="341" width="1" height="15" fill="#26a69a"/>
<rect x="626" y="345" width="3" height="9" fill="#26a69a"/>
<rect x="631" y="339" width="1" height="10" fill="#26a69a"/>
<rect x="630" y="340" width="3" height="6" fill="#26a69a"/>
<rect x="634" y="317" width="1" height="30" fill="#26a69a"/>
<rect x="633" y="335" width="3" height="11" fill="#26a69a"/>
<rect x="637" y="332" width="1" height="21" fill="#ef5350"/>
<rect x="636" y="335" width="3" height="13" fill="#ef5350"/>
<rect x="640" y="324" width="1" height="26" fill="#26a69a"/>
<rect x="639" y="335" width="3" height="13" fill="#26a69a"/>
<rect x="644" y="320" width="1" height="17" fill="#26a69a"/>
<rect x="643" y="331" width="3" height="5" fill="#26a69a"/>
<rect x="647" y="329" width="1" height="13" fill="#ef5350"/>
<rect x="646" y="331" width="3" height="7" fill="#ef5350"/>
<rect x="650" y="335" width="1" height="7" fill="#ef5350"/>
<rect x="649" y="336" width="3" height="4" fill="#ef5350"/>
<rect x="653" y="325" width="1" height="16" fill="#26a69a"/>
<rect x="652" y="328" width="3" height="12" fill="#26a69a"/>
<rect x="657" y="312" width="1" height="20" fill="#ef5350"/>
<rect x="656" y="328" width="3" height="2" fill="#ef5350"/>
<rect x="660" y="318" width="1" height="14" fill="#26a69a"/>
<rect x="659" y="320" width="3" height="9" fill="#26a69a"/>
<rect x="663" y="297" width="1" height="25" fill="#26a69a"/>
<rect x="662" y="302" width="3" height="18" fill="#26a69a"/>
<rect x="666" y="270" width="1" height="34" fill="#26a69a"/>
<rect x="665" y="274" width="3" height="29" fill="#26a69a"/>
<rect x="669" y="190" width="1" height="90" fill="#26a69a"/>
<rect x="668" y="236" width="3" height="39" fill="#26a69a"/>
<rect x="673" y="215" width="1" height="36" fill="#26a69a"/>
<rect x="672" y="235" width="3" height="3" fill="#26a69a"/>
<rect x="676" y="205" width="1" height="34" fill="#26a69a"/>
<rect x="675" y="217" width="3" height="19" fill="#26a69a"/>
<rect x="679" y="176" width="1" height="43" fill="#26a69a"/>
<rect x="678" y="192" width="3" height="25" fill="#26a69a"/>
<rect x="682" y="189" width="1" height="34" fill="#ef5350"/>
<rect x="681" y="192" width="3" height="9" fill="#ef5350"/>
<rect x="686" y="164" width="1" height="44" fill="#26a69a"/>
<rect x="685" y="177" width="3" height="24" fill="#26a69a"/>
<rect x="689" y="75" width="1" height="112" fill="#26a69a"/>
<rect x="688" y="89" width="3" height="88" fill="#26a69a"/>
<rect x="692" y="54" width="1" height="62" fill="#ef5350"/>
<rect x="691" y="89" width="3" height="13" fill="#ef5350"/>
<rect x="695" y="88" width="1" height="26" fill="#26a69a"/>
<rect x="694" y="100" width="3" height="2" fill="#26a69a"/>
<rect x="698" y="74" width="1" height="34" fill="#26a69a"/>
<rect x="697" y="94" width="3" height="7" fill="#26a69a"/>
<rect x="702" y="57" width="1" height="47" fill="#26a69a"/>
<rect x="701" y="75" width="3" height="19" fill="#26a69a"/>
<rect x="705" y="70" width="1" height="31" fill="#26a69a"/>
<rect x="704" y="75" width="3" height="1" fill="#26a69a"/>
<rect x="708" y="75" width="1" height="105" fill="#ef5350"/>
<rect x="707" y="75" width="3" height="74" fill="#ef5350"/>
<rect x="711" y="132" width="1" height="61" fill="#ef5350"/>
<rect x="710" y="148" width="3" height="7" fill="#ef5350"/>
<rect x="715" y="152" width="1" height="33" fill="#ef5350"/>
<rect x="714" y="155" width="3" height="1" fill="#ef5350"/>
<rect x="718" y="141" width="1" height="21" fill="#26a69a"/>
<rect x="717" y="151" width="3" height="6" fill="#26a69a"/>
<rect x="721" y="134" width="1" height="20" fill="#26a69a"/>
<rect x="720" y="137" width="3" height="15" fill="#26a69a"/>
<rect x="724" y="119" width="1" height="44" fill="#ef5350"/>
<rect x="723" y="137" width="3" height="24" fill="#ef5350"/>
<rect x="728" y="147" width="1" height="27" fill="#26a69a"/>
<rect x="727" y="159" width="3" height="2" fill="#26a69a"/>
<rect x="731" y="152" width="1" height="31" fill="#ef5350"/>
<rect x="730" y="159" width="3" height="7" fill="#ef5350"/>
<rect x="734" y="149" width="1" height="33" fill="#ef5350"/>
<rect x="733" y="166" width="3" height="14" fill="#ef5350"/>
<rect x="737" y="173" width="1" height="33" fill="#ef5350"/>
<rect x="736" y="180" width="3" height="13" fill="#ef5350"/>
<rect x="740" y="180" width="1" height="56" fill="#ef5350"/>
<rect x="739" y="193" width="3" height="38" fill="#ef5350"/>
<rect x="744" y="192" width="1" height="46" fill="#26a69a"/>
<rect x="743" y="194" width="3" height="37" fill="#26a69a"/>
<rect x="747" y="166" width="1" height="31" fill="#26a69a"/>
<rect x="746" y="170" width="3" height="24" fill="#26a69a"/>
<rect x="750" y="163" width="1" height="37" fill="#ef5350"/>
<rect x="749" y="170" width="3" height="22" fill="#ef5350"/>
<rect x="753" y="180" width="1" height="24" fill="#26a69a"/>
<rect x="752" y="186" width="3" height="6" fill="#26a69a"/>
<rect x="757" y="118" width="1" height="73" fill="#26a69a"/>
<rect x="756" y="121" width="3" height="65" fill="#26a69a"/>
<rect x="760" y="109" width="1" height="35" fill="#ef5350"/>
<rect x="759" y="121" width="3" height="7" fill="#ef5350"/>
<rect x="763" y="115" width="1" height="27" fill="#ef5350"/>
<rect x="762" y="128" width="3" height="12" fill="#ef5350"/>
<rect x="766" y="129" width="1" height="25" fill="#ef5350"/>
<rect x="765" y="140" width="3" height="8" fill="#ef5350"/>
<rect x="769" y="118" width="1" height="42" fill="#ef5350"/>
<rect x="768" y="147" width="3" height="13" fill="#ef5350"/>
<rect x="773" y="124" width="1" height="38" fill="#26a69a"/>
<rect x="772" y="131" width="3" height="29" fill="#26a69a"/>
<rect x="776" y="118" width="1" height="26" fill="#26a69a"/>
<rect x="775" y="130" width="3" height="2" fill="#26a69a"/>
<rect x="779" y="115" width="1" height="70" fill="#ef5350"/>
<rect x="778" y="130" width="3" height="40" fill="#ef5350"/>
<rect x="782" y="156" width="1" height="28" fill="#ef5350"/>
<rect x="781" y="169" width="3" height="1" fill="#ef5350"/>
<rect x="786" y="153" width="1" height="17" fill="#26a69a"/>
<rect x="785" y="163" width="3" height="7" fill="#26a69a"/>
<rect x="789" y="155" width="1" height="14" fill="#ef5350"/>
<rect x="788" y="163" width="3" height="4" fill="#ef5350"/>
<rect x="792" y="166" width="1" height="28" fill="#ef5350"/>
<rect x="791" y="167" width="3" height="4" fill="#ef5350"/>
<rect x="795" y="169" width="1" height="45" fill="#ef5350"/>
<rect x="794" y="171" width="3" height="42" fill="#ef5350"/>
<rect x="799" y="187" width="1" height="33" fill="#26a69a"/>
<rect x="798" y="194" width="3" height="20" fill="#26a69a"/>
<rect x="802" y="192" width="1" height="23" fill="#ef5350"/>
<rect x="801" y="194" width="3" height="20" fill="#ef5350"/>
<rect x="805" y="163" width="1" height="64" fill="#26a69a"/>
<rect x="804" y="169" width="3" height="46" fill="#26a69a"/>
<rect x="808" y="168" width="1" height="19" fill="#ef5350"/>
<rect x="807" y="169" width="3" height="11" fill="#ef5350"/>
<rect x="811" y="159" width="1" height="22" fill="#ef5350"/>
<rect x="810" y="174" width="3" height="6" fill="#ef5350"/>
<rect x="815" y="177" width="1" height="42" fill="#ef5350"/>
<rect x="814" y="179" width="3" height="34" fill="#ef5350"/>
<rect x="818" y="168" width="1" height="47" fill="#26a69a"/>
<rect x="817" y="181" width="3" height="32" fill="#26a69a"/>
<rect x="821" y="175" width="1" height="17" fill="#ef5350"/>
<rect x="820" y="181" width="3" height="10" fill="#ef5350"/>
<rect x="824" y="180" width="1" height="15" fill="#ef5350"/>
<rect x="823" y="185" width="3" height="6" fill="#ef5350"/>
<rect x="828" y="189" width="1" height="40" fill="#ef5350"/>
<rect x="827" y="191" width="3" height="29" fill="#ef5350"/>
<rect x="831" y="217" width="1" height="15" fill="#ef5350"/>
<rect x="830" y="220" width="3" height="1" fill="#ef5350"/>
<rect x="834" y="210" width="1" height="20" fill="#ef5350"/>
<rect x="833" y="220" width="3" height="9" fill="#ef5350"/>
<rect x="837" y="216" width="1" height="28" fill="#ef5350"/>
<rect x="836" y="229" width="3" height="4" fill="#ef5350"/>
<rect x="840" y="211" width="1" height="23" fill="#26a69a"/>
<rect x="839" y="211" width="3" height="22" fill="#26a69a"/>
<rect x="844" y="207" width="1" height="13" fill="#ef5350"/>
<rect x="843" y="211" width="3" height="5" fill="#ef5350"/>
<rect x="847" y="211" width="1" height="16" fill="#ef5350"/>
<rect x="846" y="215" width="3" height="10" fill="#ef5350"/>
<rect x="850" y="207" width="1" height="21" fill="#26a69a"/>
<rect x="849" y="221" width="3" height="4" fill="#26a69a"/>
<rect x="853" y="218" width="1" height="7" fill="#ef5350"/>
<rect x="852" y="221" width="3" height="1" fill="#ef5350"/>
<rect x="857" y="198" width="1" height="25" fill="#26a69a"/>
<rect x="856" y="209" width="3" height="13" fill="#26a69a"/>
<rect x="860" y="185" width="1" height="26" fill="#26a69a"/>
<rect x="859" y="190" width="3" height="19" fill="#26a69a"/>
<rect x="863" y="180" width="1" height="16" fill="#ef5350"/>
<rect x="862" y="190" width="3" height="6" fill="#ef5350"/>
<rect x="866" y="180" width="1" height="17" fill="#26a69a"/>
<rect x="865" y="187" width="3" height="9" fill="#26a69a"/>
<rect x="870" y="174" width="1" height="20" fill="#26a69a"/>
<rect x="869" y="176" width="3" height="12" fill="#26a69a"/>
<rect x="873" y="157" width="1" height="24" fill="#26a69a"/>
<rect x="872" y="163" width="3" height="14" fill="#26a69a"/>
<rect x="876" y="147" width="1" height="20" fill="#26a69a"/>
<rect x="875" y="161" width="3" height="3" fill="#26a69a"/>
<rect x="879" y="159" width="1" height="23" fill="#ef5350"/>
<rect x="878" y="161" width="3" height="19" fill="#ef5350"/>
<rect x="882" y="171" width="1" height="22" fill="#ef5350"/>
<rect x="881" y="180" width="3" height="5" fill="#ef5350"/>
<rect x="886" y="173" width="1" height="18" fill="#26a69a"/>
<rect x="885" y="177" width="3" height="8" fill="#26a69a"/>
<rect x="889" y="163" width="1" height="21" fill="#26a69a"/>
<rect x="888" y="168" width="3" height="10" fill="#26a69a"/>
<rect x="892" y="157" width="1" height="16" fill="#ef5350"/>
<rect x="891" y="168" width="3" height="2" fill="#ef5350"/>
<rect x="895" y="166" width="1" height="22" fill="#ef5350"/>
<rect x="894" y="170" width="3" height="17" fill="#ef5350"/>
<rect x="899" y="182" width="1" height="9" fill="#ef5350"/>
<rect x="898" y="186" width="3" height="4" fill="#ef5350"/>
<rect x="902" y="183" width="1" height="11" fill="#ef5350"/>
<rect x="901" y="187" width="3" height="2" fill="#ef5350"/>
<rect x="905" y="188" width="1" height="56" fill="#ef5350"/>
<rect x="904" y="189" width="3" height="25" fill="#ef5350"/>
<rect x="908" y="205" width="1" height="19" fill="#ef5350"/>
<rect x="907" y="214" width="3" height="5" fill="#ef5350"/>
<rect x="911" y="185" width="1" height="41" fill="#26a69a"/>
<rect x="910" y="199" width="3" height="20" fill="#26a69a"/>
<rect x="915" y="195" width="1" height="44" fill="#ef5350"/>
<rect x="914" y="199" width="3" height="37" fill="#ef5350"/>
<rect x="918" y="222" width="1" height="22" fill="#26a69a"/>
<rect x="917" y="227" width="3" height="9" fill="#26a69a"/>
<rect x="921" y="218" width="1" height="12" fill="#26a69a"/>
<rect x="920" y="223" width="3" height="5" fill="#26a69a"/>
<rect x="924" y="210" width="1" height="20" fill="#26a69a"/>
<rect x="923" y="210" width="3" height="13" fill="#26a69a"/>
<rect x="928" y="198" width="1" height="17" fill="#26a69a"/>
<rect x="927" y="208" width="3" height="3" fill="#26a69a"/>
<rect x="931" y="202" width="1" height="18" fill="#ef5350"/>
<rect x="930" y="208" width="3" height="7" fill="#ef5350"/>
<rect x="934" y="192" width="1" height="29" fill="#26a69a"/>
<rect x="933" y="195" width="3" height="20" fill="#26a69a"/>
<rect x="937" y="164" width="1" height="32" fill="#26a69a"/>
<rect x="936" y="176" width="3" height="19" fill="#26a69a"/>
<rect x="941" y="165" width="1" height="18" fill="#26a69a"/>
<rect x="940" y="176" width="3" height="1" fill="#26a69a"/>
<rect x="944" y="174" width="1" height="21" fill="#ef5350"/>
<rect x="943" y="176" width="3" height="15" fill="#ef5350"/>
<rect x="947" y="170" width="1" height="25" fill="#26a69a"/>
<rect x="946" y="190" width="3" height="1" fill="#26a69a"/>
<rect x="950" y="174" width="1" height="20" fill="#26a69a"/>
<rect x="949" y="187" width="3" height="4" fill="#26a69a"/>
<rect x="953" y="184" width="1" height="30" fill="#ef5350"/>
<rect x="952" y="187" width="3" height="27" fill="#ef5350"/>
<rect x="957" y="199" width="1" height="19" fill="#26a69a"/>
<rect x="956" y="208" width="3" height="6" fill="#26a69a"/>
<rect x="960" y="208" width="1" height="21" fill="#ef5350"/>
<rect x="959" y="208" width="3" height="16" fill="#ef5350"/>
<rect x="963" y="219" width="1" height="311" fill="#ef5350"/>
<rect x="962" y="223" width="3" height="87" fill="#ef5350"/>
<rect x="966" y="282" width="1" height="41" fill="#26a69a"/>
<rect x="965" y="306" width="3" height="4" fill="#26a69a"/>
<rect x="970" y="266" width="1" height="54" fill="#26a69a"/>
<rect x="969" y="278" width="3" height="29" fill="#26a69a"/>
<rect x="973" y="254" width="1" height="27" fill="#26a69a"/>
<rect x="972" y="262" width="3" height="16" fill="#26a69a"/>
<rect x="976" y="259" width="1" height="46" fill="#ef5350"/>
<rect x="975" y="262" width="3" height="20" fill="#ef5350"/>
<rect x="979" y="274" width="1" height="34" fill="#ef5350"/>
<rect x="978" y="282" width="3" height="20" fill="#ef5350"/>
<rect x="982" y="290" width="1" height="36" fill="#ef5350"/>
<rect x="981" y="301" width="3" height="17" fill="#ef5350"/>
<rect x="986" y="304" width="1" height="40" fill="#ef5350"/>
<rect x="985" y="317" width="3" height="8" fill="#ef5350"/>
<rect x="989" y="305" width="1" height="20" fill="#26a69a"/>
<rect x="988" y="311" width="3" height="14" fill="#26a69a"/>
<rect x="992" y="299" width="1" height="20" fill="#26a69a"/>
<rect x="991" y="305" width="3" height="6" fill="#26a69a"/>
<rect x="995" y="273" width="1" height="39" fill="#26a69a"/>
<rect x="994" y="284" width="3" height="21" fill="#26a69a"/>
<rect x="999" y="277" width="1" height="26" fill="#ef5350"/>
<rect x="998" y="284" width="3" height="15" fill="#ef5350"/>
<rect x="1002" y="295" width="1" height="23" fill="#ef5350"/>
<rect x="1001" y="299" width="3" height="12" fill="#ef5350"/>
<rect x="1005" y="298" width="1" height="13" fill="#26a69a"/>
<rect x="1004" y="304" width="3" height="7" fill="#26a69a"/>
<rect x="1008" y="280" width="1" height="26" fill="#26a69a"/>
<rect x="1007" y="281" width="3" height="24" fill="#26a69a"/>
<rect x="1012" y="253" width="1" height="30" fill="#26a69a"/>
<rect x="1011" y="264" width="3" height="18" fill="#26a69a"/>
<rect x="1015" y="251" width="1" height="15" fill="#26a69a"/>
<rect x="1014" y="254" width="3" height="11" fill="#26a69a"/>
<rect x="1018" y="244" width="1" height="19" fill="#ef5350"/>
<rect x="1017" y="254" width="3" height="3" fill="#ef5350"/>
<rect x="1021" y="246" width="1" height="22" fill="#ef5350"/>
<rect x="1020" y="257" width="3" height="7" fill="#ef5350"/>
<rect x="1024" y="251" width="1" height="25" fill="#ef5350"/>
<rect x="1023" y="263" width="3" height="11" fill="#ef5350"/>
<rect x="1028" y="264" width="1" height="43" fill="#ef5350"/>
<rect x="1027" y="273" width="3" height="23" fill="#ef5350"/>
<rect x="1031" y="272" width="1" height="25" fill="#26a69a"/>
<rect x="1030" y="277" width="3" height="19" fill="#26a69a"/>
<rect x="1034" y="277" width="1" height="11" fill="#ef5350"/>
<rect x="1033" y="278" width="3" height="3" fill="#ef5350"/>
<rect x="1037" y="273" width="1" height="14" fill="#26a69a"/>
<rect x="1036" y="277" width="3" height="5" fill="#26a69a"/>
<rect x="1041" y="277" width="1" height="53" fill="#ef5350"/>
<rect x="1040" y="277" width="3" height="45" fill="#ef5350"/>
<rect x="1044" y="310" width="1" height="58" fill="#ef5350"/>
<rect x="1043" y="322" width="3" height="19" fill="#ef5350"/>
<rect x="1047" y="308" width="1" height="54" fill="#26a69a"/>
<rect x="1046" y="314" width="3" height="27" fill="#26a69a"/>
<rect x="1050" y="300" width="1" height="46" fill="#ef5350"/>
<rect x="1049" y="314" width="3" height="27" fill="#ef5350"/>
<rect x="1053" y="308" width="1" height="44" fill="#26a69a"/>
<rect x="1052" y="320" width="3" height="21" fill="#26a69a"/>
<rect x="1057" y="315" width="1" height="19" fill="#ef5350"/>
<rect x="1056" y="320" width="3" height="6" fill="#ef5350"/>
<rect x="1060" y="304" width="1" height="31" fill="#26a69a"/>
<rect x="1059" y="310" width="3" height="16" fill="#26a69a"/>
<rect x="1063" y="267" width="1" height="47" fill="#26a69a"/>
<rect x="1062" y="278" width="3" height="33" fill="#26a69a"/>
<rect x="1066" y="269" width="1" height="38" fill="#ef5350"/>
<rect x="1065" y="278" width="3" height="28" fill="#ef5350"/>
<rect x="1070" y="293" width="1" height="26" fill="#ef5350"/>
<rect x="1069" y="305" width="3" height="1" fill="#ef5350"/>
<rect x="1073" y="278" width="1" height="49" fill="#ef5350"/>
<rect x="1072" y="305" width="3" height="13" fill="#ef5350"/>
<rect x="1076" y="314" width="1" height="22" fill="#ef5350"/>
<rect x="1075" y="318" width="3" height="16" fill="#ef5350"/>
<rect x="1079" y="322" width="1" height="17" fill="#ef5350"/>
<rect x="1078" y="334" width="3" height="2" fill="#ef5350"/>
<rect x="1083" y="327" width="1" height="24" fill="#ef5350"/>
<rect x="1082" y="335" width="3" height="5" fill="#ef5350"/>
<rect x="1086" y="321" width="1" height="38" fill="#ef5350"/>
<rect x="1085" y="340" width="3" height="11" fill="#ef5350"/>
<rect x="1089" y="334" width="1" height="27" fill="#26a69a"/>
<rect x="1088" y="339" width="3" height="12" fill="#26a69a"/>
<rect x="1092" y="338" width="1" height="39" fill="#ef5350"/>
<rect x="1091" y="339" width="3" height="22" fill="#ef5350"/>
<rect x="1095" y="352" width="1" height="35" fill="#ef5350"/>
<rect x="1094" y="360" width="3" height="22" fill="#ef5350"/>
<rect x="1099" y="376" width="1" height="41" fill="#ef5350"/>
<rect x="1098" y="382" width="3" height="10" fill="#ef5350"/>
<rect x="1102" y="389" width="1" height="16" fill="#26a69a"/>
<rect x="1101" y="392" width="3" height="1" fill="#26a69a"/>
<rect x="1105" y="365" width="1" height="28" fill="#26a69a"/>
<rect x="1104" y="372" width="3" height="20" fill="#26a69a"/>
<rect x="1108" y="325" width="1" height="52" fill="#26a69a"/>
<rect x="1107" y="337" width="3" height="35" fill="#26a69a"/>
<rect x="1112" y="330" width="1" height="23" fill="#ef5350"/>
<rect x="1111" y="337" width="3" height="5" fill="#ef5350"/>
<rect x="1115" y="332" width="1" height="21" fill="#26a69a"/>
<rect x="1114" y="338" width="3" height="4" fill="#26a69a"/>
<rect x="1118" y="336" width="1" height="12" fill="#ef5350"/>
<rect x="1117" y="338" width="3" height="4" fill="#ef5350"/>
<rect x="1121" y="328" width="1" height="23" fill="#ef5350"/>
<rect x="1120" y="340" width="3" height="7" fill="#ef5350"/>
<rect x="1124" y="338" width="1" height="11" fill="#26a69a"/>
<rect x="1123" y="342" width="3" height="5" fill="#26a69a"/>
<rect x="1128" y="341" width="1" height="11" fill="#ef5350"/>
<rect x="1127" y="342" width="3" height="9" fill="#ef5350"/>
<rect x="1131" y="350" width="1" height="35" fill="#ef5350"/>
<rect x="1130" y="351" width="3" height="25" fill="#ef5350"/>
<rect x="1134" y="346" width="1" height="37" fill="#26a69a"/>
<rect x="1133" y="347" width="3" height="29" fill="#26a69a"/>
<rect x="1137" y="339" width="1" height="15" fill="#26a69a"/>
<rect x="1136" y="343" width="3" height="4" fill="#26a69a"/>
<rect x="1141" y="340" width="1" height="28" fill="#ef5350"/>
<rect x="1140" y="342" width="3" height="22" fill="#ef5350"/>
<rect x="1144" y="360" width="1" height="20" fill="#ef5350"/>
<rect x="1143" y="363" width="3" height="12" fill="#ef5350"/>
<rect x="1147" y="372" width="1" height="6" fill="#ef5350"/>
<rect x="1146" y="375" width="3" height="1" fill="#ef5350"/>
<rect x="1150" y="360" width="1" height="24" fill="#26a69a"/>
<rect x="1149" y="373" width="3" height="4" fill="#26a69a"/>
<rect x="1154" y="357" width="1" height="19" fill="#26a69a"/>
<rect x="1153" y="368" width="3" height="6" fill="#26a69a"/>
<rect x="1157" y="347" width="1" height="27" fill="#26a69a"/>
<rect x="1156" y="361" width="3" height="7" fill="#26a69a"/>
<rect x="1160" y="361" width="1" height="14" fill="#ef5350"/>
<rect x="1159" y="361" width="3" height="13" fill="#ef5350"/>
<rect x="1163" y="371" width="1" height="16" fill="#ef5350"/>
<rect x="1162" y="374" width="3" height="1" fill="#ef5350"/>
<rect x="1166" y="373" width="1" height="15" fill="#ef5350"/>
<rect x="1165" y="375" width="3" height="6" fill="#ef5350"/>
<rect x="1170" y="372" width="1" height="10" fill="#26a69a"/>
<rect x="1169" y="378" width="3" height="4" fill="#26a69a"/>
<rect x="1173" y="376" width="1" height="15" fill="#ef5350"/>
<rect x="1172" y="378" width="3" height="8" fill="#ef5350"/>
<rect x="1176" y="379" width="1" height="29" fill="#ef5350"/>
<rect x="1175" y="386" width="3" height="17" fill="#ef5350"/>
<rect x="1179" y="392" width="1" height="18" fill="#26a69a"/>
<rect x="1178" y="396" width="3" height="7" fill="#26a69a"/>
<rect x="1183" y="384" width="1" height="27" fill="#ef5350"/>
<rect x="1182" y="396" width="3" height="14" fill="#ef5350"/>
<rect x="1186" y="395" width="1" height="27" fill="#ef5350"/>
<rect x="1185" y="409" width="3" height="12" fill="#ef5350"/>
<rect x="1189" y="401" width="1" height="26" fill="#26a69a"/>
<rect x="1188" y="404" width="3" height="17" fill="#26a69a"/></g>
<path d="M828.5,64.5 H917.5 Q924.5,64.5 924.5,71.5 V90.5 Q924.5,97.5 917.5,97.5 H881 L886.9,130.8 L865,97.5 H828.5 Q821.5,97.5 821.5,90.5 V71.5 Q821.5,64.5 828.5,64.5 Z" fill="#fff" stroke="#9e2b2b" stroke-width="1.4" stroke-linejoin="round"/>
<text x="873" y="85.2" font-family="Liberation Sans, sans-serif" font-size="12.5" fill="#8b1a1a" text-anchor="middle" textLength="81.5" lengthAdjust="spacingAndGlyphs">Downtrend line</text>
<path d="M752.5,315.5 H781 L818.1,286.2 L796.8,315.5 H825.5 Q832.5,315.5 832.5,322.5 V341.5 Q832.5,348.5 825.5,348.5 H752.5 Q745.5,348.5 745.5,341.5 V322.5 Q745.5,315.5 752.5,315.5 Z" fill="#fff" stroke="#9e2b2b" stroke-width="1.4" stroke-linejoin="round"/>
<text x="788.8" y="334.6" font-family="Liberation Sans, sans-serif" font-size="12.5" fill="#8b1a1a" text-anchor="middle" textLength="64.6" lengthAdjust="spacingAndGlyphs">Support line</text>
<circle cx="1189.8" cy="543.8" r="11.5" fill="#fff"/>
<circle cx="1189.4" cy="544.3" r="9.6" fill="none" stroke="#9c27b0" stroke-width="1.4"/>
<circle cx="1196.4" cy="537.5" r="4.6" fill="#fff"/>
<circle cx="1196.4" cy="537.5" r="2.7" fill="#f23645"/>
<polygon points="1191.8,539.2 1185.3,544.6 1189.2,544.9 1186.3,549.9 1193.7,544.3 1189.9,543.9" fill="#9c27b0"/>
<line x1="11" y1="614.5" x2="1277" y2="614.5" stroke="#787b86" stroke-width="1" stroke-dasharray="5.5 5.6"/>
<line x1="11" y1="665.5" x2="1277" y2="665.5" stroke="#a0a3ab" stroke-width="1" stroke-dasharray="5.5 5.6"/>
<line x1="11" y1="716.5" x2="1277" y2="716.5" stroke="#787b86" stroke-width="1" stroke-dasharray="5.5 5.6"/>
<defs><linearGradient id="ob" gradientUnits="userSpaceOnUse" x1="0" y1="537.5" x2="0" y2="614.0"><stop offset="0" stop-color="#4caf50" stop-opacity="1"/><stop offset="1" stop-color="#4caf50" stop-opacity="0"/></linearGradient> <clipPath id="obc"><rect x="11" y="558" width="1266" height="56.0"/></clipPath></defs>
<path d="M11.5,655.2 L14.7,651.4 L18.0,654.6 L21.2,659.8 L24.4,655.1 L27.6,647.6 L30.9,651.6 L34.1,667.6 L37.3,668.5 L40.5,663.8 L43.8,673.9 L47.0,677.9 L50.2,674.1 L53.5,646.5 L56.7,640.2 L59.9,635.3 L63.1,641.0 L66.4,643.6 L69.6,641.3 L72.8,662.6 L76.1,650.5 L79.3,663.4 L82.5,655.7 L85.7,634.0 L89.0,643.2 L92.2,641.8 L95.4,629.7 L98.6,602.9 L101.9,598.9 L105.1,596.9 L108.3,600.1 L111.6,635.8 L114.8,627.5 L118.0,623.7 L121.2,623.3 L124.5,630.7 L127.7,632.1 L130.9,631.6 L134.1,642.9 L137.4,639.7 L140.6,639.3 L143.8,638.7 L147.1,633.0 L150.3,646.4 L153.5,665.9 L156.7,693.1 L160.0,680.1 L163.2,693.4 L166.4,703.2 L169.7,706.4 L172.9,698.2 L176.1,695.2 L179.3,697.1 L182.6,693.1 L185.8,694.0 L189.0,685.7 L192.2,674.1 L195.5,654.4 L198.7,652.0 L201.9,656.2 L205.2,664.2 L208.4,675.9 L211.6,655.6 L214.8,661.7 L218.1,674.2 L221.3,673.0 L224.5,672.7 L227.7,701.2 L231.0,695.0 L234.2,704.6 L237.4,707.3 L240.7,708.2 L243.9,700.7 L247.1,632.7 L250.3,672.7 L253.6,668.4 L256.8,665.6 L260.0,658.8 L263.2,673.2 L266.5,676.6 L269.7,687.6 L272.9,693.8 L276.2,681.8 L279.4,676.7 L282.6,675.6 L285.8,665.3 L289.1,664.8 L292.3,672.8 L295.5,668.2 L298.8,673.1 L302.0,652.1 L305.2,661.2 L308.4,666.2 L311.7,666.7 L314.9,660.3 L318.1,659.5 L321.3,662.2 L324.6,670.2 L327.8,670.8 L331.0,683.3 L334.3,689.8 L337.5,689.3 L340.7,694.0 L343.9,686.6 L347.2,694.5 L350.4,692.7 L353.6,683.3 L356.8,680.6 L360.1,703.2 L363.3,705.2 L366.5,713.1 L369.8,677.9 L373.0,685.9 L376.2,679.2 L379.4,663.6 L382.7,668.7 L385.9,668.7 L389.1,671.5 L392.3,671.8 L395.6,674.5 L398.8,675.3 L402.0,669.5 L405.3,671.4 L408.5,668.2 L411.7,650.2 L414.9,649.4 L418.2,654.5 L421.4,656.3 L424.6,654.6 L427.8,644.7 L431.1,638.6 L434.3,652.7 L437.5,659.6 L440.8,655.8 L444.0,659.9 L447.2,662.7 L450.4,669.6 L453.7,675.8 L456.9,668.7 L460.1,676.1 L463.4,635.7 L466.6,633.6 L469.8,617.3 L473.0,641.0 L476.3,620.8 L479.5,617.7 L482.7,623.1 L485.9,652.9 L489.2,653.8 L492.4,658.2 L495.6,646.7 L498.9,659.8 L502.1,655.2 L505.3,653.5 L508.5,648.6 L511.8,669.6 L515.0,663.0 L518.2,661.5 L521.4,667.3 L524.7,669.3 L527.9,678.4 L531.1,679.8 L534.4,695.6 L537.6,687.8 L540.8,685.6 L544.0,682.9 L547.3,672.1 L550.5,680.0 L553.7,696.7 L557.0,682.8 L560.2,678.4 L563.4,661.3 L566.6,652.6 L569.9,662.4 L573.1,663.6 L576.3,677.5 L579.5,684.8 L582.8,685.8 L586.0,678.0 L589.2,664.7 L592.5,679.2 L595.7,679.2 L598.9,676.4 L602.1,684.5 L605.4,694.9 L608.6,702.4 L611.8,669.6 L615.0,663.9 L618.3,666.2 L621.5,679.5 L624.7,671.2 L628.0,663.0 L631.2,658.4 L634.4,653.1 L637.6,667.2 L640.9,654.4 L644.1,651.1 L647.3,659.2 L650.5,660.5 L653.8,649.1 L657.0,651.2 L660.2,641.1 L663.5,626.8 L666.7,609.6 L669.9,593.9 L673.1,593.5 L676.4,587.4 L679.6,580.5 L682.8,590.9 L686.1,584.2 L689.3,568.5 L692.5,580.1 L695.7,579.7 L699.0,578.6 L702.2,575.2 L705.4,575.2 L708.6,633.7 L711.9,637.7 L715.1,638.3 L718.3,636.2 L721.6,630.1 L724.8,646.4 L728.0,645.3 L731.2,649.9 L734.5,659.9 L737.7,667.8 L740.9,688.2 L744.1,666.0 L747.4,654.3 L750.6,666.0 L753.8,662.8 L757.1,635.4 L760.3,639.5 L763.5,646.1 L766.7,650.2 L770.0,656.9 L773.2,644.1 L776.4,643.8 L779.6,665.4 L782.9,665.6 L786.1,661.8 L789.3,664.2 L792.6,666.8 L795.8,688.6 L799.0,676.6 L802.2,686.2 L805.5,661.7 L808.7,666.8 L811.9,666.8 L815.2,682.8 L818.4,666.2 L821.6,670.9 L824.8,670.5 L828.1,684.6 L831.3,684.8 L834.5,688.6 L837.7,690.4 L841.0,675.6 L844.2,678.2 L847.4,683.5 L850.7,680.6 L853.9,681.2 L857.1,670.8 L860.3,657.3 L863.6,661.7 L866.8,655.8 L870.0,648.2 L873.2,640.2 L876.5,638.8 L879.7,655.9 L882.9,659.5 L886.2,653.9 L889.4,646.9 L892.6,649.0 L895.8,664.6 L899.1,667.2 L902.3,666.4 L905.5,686.9 L908.7,690.8 L912.0,670.7 L915.2,695.2 L918.4,687.8 L921.7,683.9 L924.9,673.0 L928.1,671.5 L931.3,676.7 L934.6,659.8 L937.8,646.4 L941.0,646.1 L944.2,659.4 L947.5,658.8 L950.7,656.7 L953.9,679.3 L957.2,674.0 L960.4,685.7 L963.6,724.9 L966.8,721.8 L970.1,699.6 L973.3,688.5 L976.5,697.5 L979.8,705.1 L983.0,711.1 L986.2,713.5 L989.4,702.8 L992.7,698.3 L995.9,682.9 L999.1,690.2 L1002.3,695.9 L1005.6,691.1 L1008.8,674.2 L1012.0,663.8 L1015.3,657.9 L1018.5,659.9 L1021.7,664.5 L1024.9,671.1 L1028.2,684.8 L1031.4,671.2 L1034.6,673.6 L1037.8,670.8 L1041.1,696.3 L1044.3,705.1 L1047.5,684.9 L1050.8,697.0 L1054.0,683.4 L1057.2,686.0 L1060.4,675.8 L1063.7,657.7 L1066.9,672.7 L1070.1,672.7 L1073.3,679.0 L1076.6,686.7 L1079.8,687.4 L1083.0,689.6 L1086.3,695.2 L1089.5,685.7 L1092.7,696.9 L1095.9,706.4 L1099.2,710.7 L1102.4,710.0 L1105.6,693.1 L1108.9,668.8 L1112.1,671.8 L1115.3,669.1 L1118.5,671.5 L1121.8,674.4 L1125.0,670.9 L1128.2,677.5 L1131.4,693.5 L1134.7,670.0 L1137.9,667.4 L1141.1,680.6 L1144.4,687.5 L1147.6,687.9 L1150.8,685.0 L1154.0,680.6 L1157.3,674.6 L1160.5,684.2 L1163.7,684.9 L1166.9,689.3 L1170.2,686.1 L1173.4,692.3 L1176.6,704.0 L1179.9,695.9 L1183.1,705.3 L1186.3,711.9 L1189.5,692.7 L1189.8,614.0 L11,614.0 Z" fill="url(#ob)" clip-path="url(#obc)"/>
<path d="M11.5,618.2 L14.7,622.3 L18.0,627.0 L21.2,632.2 L24.4,633.9 L27.6,635.7 L30.9,638.1 L34.1,641.4 L37.3,644.8 L40.5,647.6 L43.8,651.4 L47.0,655.7 L50.2,660.0 L53.5,660.6 L56.7,659.5 L59.9,658.3 L63.1,657.4 L66.4,656.2 L69.6,655.2 L72.8,656.3 L76.1,656.2 L79.3,655.9 L82.5,655.0 L85.7,652.9 L89.0,650.7 L92.2,648.1 L95.4,644.9 L98.6,641.8 L101.9,638.8 L105.1,636.1 L108.3,633.2 L111.6,632.6 L114.8,631.6 L118.0,628.9 L121.2,626.9 L124.5,624.6 L127.7,622.9 L130.9,622.7 L134.1,622.7 L137.4,622.5 L140.6,623.2 L143.8,625.8 L147.1,628.2 L150.3,631.8 L153.5,636.5 L156.7,640.6 L160.0,644.3 L163.2,649.3 L166.4,655.0 L169.7,660.4 L172.9,665.1 L176.1,669.7 L179.3,673.6 L182.6,677.4 L185.8,681.3 L189.0,684.6 L192.2,687.6 L195.5,688.1 L198.7,687.1 L201.9,684.5 L205.2,683.4 L208.4,682.1 L211.6,678.7 L214.8,675.5 L218.1,673.8 L221.3,672.2 L224.5,670.5 L227.7,671.1 L231.0,671.1 L234.2,672.5 L237.4,674.9 L240.7,678.7 L243.9,682.2 L247.1,680.5 L250.3,681.1 L253.6,680.6 L256.8,681.3 L260.0,681.1 L263.2,681.0 L266.5,681.3 L269.7,682.3 L272.9,681.8 L276.2,680.9 L279.4,678.9 L282.6,676.6 L285.8,673.5 L289.1,671.0 L292.3,673.8 L295.5,673.5 L298.8,673.8 L302.0,672.9 L305.2,673.1 L308.4,672.6 L311.7,671.8 L314.9,669.9 L318.1,667.4 L321.3,666.1 L324.6,665.6 L327.8,665.2 L331.0,666.5 L334.3,668.3 L337.5,669.5 L340.7,671.3 L343.9,672.3 L347.2,675.3 L350.4,677.6 L353.6,678.8 L356.8,679.8 L360.1,682.9 L363.3,686.1 L366.5,689.8 L369.8,690.3 L373.0,691.4 L376.2,691.1 L379.4,689.2 L382.7,687.8 L385.9,685.9 L389.1,684.9 L392.3,683.2 L395.6,682.0 L398.8,681.4 L402.0,680.6 L405.3,678.3 L408.5,675.7 L411.7,671.2 L414.9,669.2 L418.2,666.9 L421.4,665.3 L424.6,664.6 L427.8,662.9 L431.1,660.8 L434.3,659.4 L437.5,658.6 L440.8,657.2 L444.0,656.1 L447.2,655.6 L450.4,655.5 L453.7,656.0 L456.9,657.4 L460.1,659.3 L463.4,657.9 L466.6,656.3 L469.8,653.6 L473.0,653.4 L476.3,652.1 L479.5,649.6 L482.7,647.0 L485.9,646.8 L489.2,646.3 L492.4,646.0 L495.6,644.4 L498.9,643.2 L502.1,642.3 L505.3,640.7 L508.5,641.6 L511.8,644.2 L515.0,647.4 L518.2,648.9 L521.4,652.2 L524.7,655.9 L527.9,659.8 L531.1,661.8 L534.4,664.8 L537.6,666.9 L540.8,669.6 L544.0,671.3 L547.3,672.5 L550.5,674.4 L553.7,677.8 L557.0,678.8 L560.2,679.9 L563.4,679.9 L566.6,678.8 L569.9,678.3 L573.1,677.3 L576.3,677.1 L579.5,676.3 L582.8,676.2 L586.0,675.6 L589.2,674.3 L592.5,674.8 L595.7,674.8 L598.9,673.3 L602.1,673.5 L605.4,674.6 L608.6,677.6 L611.8,678.8 L615.0,678.9 L618.3,679.1 L621.5,679.2 L624.7,678.3 L628.0,676.6 L631.2,675.2 L634.4,674.4 L637.6,673.5 L640.9,671.8 L644.1,670.0 L647.3,668.2 L650.5,665.7 L653.8,661.9 L657.0,660.6 L660.2,659.0 L663.5,656.1 L666.7,651.1 L669.9,645.6 L673.1,640.7 L676.4,635.6 L679.6,630.4 L682.8,624.9 L686.1,619.9 L689.3,614.0 L692.5,608.4 L695.7,602.6 L699.0,597.6 L702.2,592.1 L705.4,587.4 L708.6,587.9 L711.9,589.9 L715.1,593.1 L718.3,596.2 L721.6,599.2 L724.8,603.9 L728.0,607.8 L731.2,612.5 L734.5,619.0 L737.7,625.3 L740.9,633.0 L744.1,639.3 L747.4,644.9 L750.6,651.4 L753.8,653.5 L757.1,653.3 L760.3,653.4 L763.5,654.1 L766.7,655.6 L770.0,656.3 L773.2,656.2 L776.4,655.8 L779.6,656.2 L782.9,656.0 L786.1,654.1 L789.3,654.0 L792.6,654.9 L795.8,656.5 L799.0,657.5 L802.2,661.1 L805.5,662.7 L808.7,664.2 L811.9,665.4 L815.2,667.2 L818.4,668.8 L821.6,670.8 L824.8,671.1 L828.1,672.5 L831.3,674.1 L834.5,675.9 L837.7,677.6 L841.0,676.6 L844.2,676.7 L847.4,676.5 L850.7,677.9 L853.9,678.9 L857.1,679.2 L860.3,677.4 L863.6,677.0 L866.8,676.0 L870.0,674.4 L873.2,671.2 L876.5,667.9 L879.7,665.6 L882.9,663.4 L886.2,661.8 L889.4,659.6 L892.6,657.1 L895.8,656.0 L899.1,655.0 L902.3,654.7 L905.5,656.8 L908.7,658.9 L912.0,659.9 L915.2,663.3 L918.4,666.7 L921.7,669.9 L924.9,671.1 L928.1,672.0 L931.3,673.6 L934.6,674.5 L937.8,674.3 L941.0,673.0 L944.2,672.5 L947.5,671.9 L950.7,669.8 L953.9,668.9 L957.2,669.2 L960.4,668.5 L963.6,671.2 L966.8,673.9 L970.1,675.8 L973.3,677.0 L976.5,678.5 L979.8,681.7 L983.0,686.3 L986.2,691.1 L989.4,694.2 L992.7,697.1 L995.9,698.9 L999.1,699.7 L1002.3,701.3 L1005.6,701.7 L1008.8,698.0 L1012.0,693.9 L1015.3,690.9 L1018.5,688.9 L1021.7,686.5 L1024.9,684.1 L1028.2,682.2 L1031.4,679.2 L1034.6,677.1 L1037.8,675.1 L1041.1,676.1 L1044.3,677.2 L1047.5,676.4 L1050.8,676.8 L1054.0,677.5 L1057.2,679.0 L1060.4,680.3 L1063.7,680.2 L1066.9,680.8 L1070.1,680.9 L1073.3,680.4 L1076.6,681.5 L1079.8,682.5 L1083.0,683.9 L1086.3,683.8 L1089.5,682.4 L1092.7,683.3 L1095.9,683.9 L1099.2,685.9 L1102.4,687.6 L1105.6,688.8 L1108.9,689.6 L1112.1,689.6 L1115.3,689.3 L1118.5,688.8 L1121.8,687.9 L1125.0,686.7 L1128.2,685.8 L1131.4,685.7 L1134.7,684.6 L1137.9,682.5 L1141.1,680.7 L1144.4,679.0 L1147.6,677.4 L1150.8,676.8 L1154.0,677.7 L1157.3,677.9 L1160.5,679.0 L1163.7,679.9 L1166.9,681.0 L1170.2,682.1 L1173.4,683.1 L1176.6,683.9 L1179.9,685.7 L1183.1,688.4 L1186.3,690.7 L1189.5,691.1" fill="none" stroke="#fdd835" stroke-width="1.1" stroke-linejoin="round"/>
<path d="M11.5,655.2 L14.7,651.4 L18.0,654.6 L21.2,659.8 L24.4,655.1 L27.6,647.6 L30.9,651.6 L34.1,667.6 L37.3,668.5 L40.5,663.8 L43.8,673.9 L47.0,677.9 L50.2,674.1 L53.5,646.5 L56.7,640.2 L59.9,635.3 L63.1,641.0 L66.4,643.6 L69.6,641.3 L72.8,662.6 L76.1,650.5 L79.3,663.4 L82.5,655.7 L85.7,634.0 L89.0,643.2 L92.2,641.8 L95.4,629.7 L98.6,602.9 L101.9,598.9 L105.1,596.9 L108.3,600.1 L111.6,635.8 L114.8,627.5 L118.0,623.7 L121.2,623.3 L124.5,630.7 L127.7,632.1 L130.9,631.6 L134.1,642.9 L137.4,639.7 L140.6,639.3 L143.8,638.7 L147.1,633.0 L150.3,646.4 L153.5,665.9 L156.7,693.1 L160.0,680.1 L163.2,693.4 L166.4,703.2 L169.7,706.4 L172.9,698.2 L176.1,695.2 L179.3,697.1 L182.6,693.1 L185.8,694.0 L189.0,685.7 L192.2,674.1 L195.5,654.4 L198.7,652.0 L201.9,656.2 L205.2,664.2 L208.4,675.9 L211.6,655.6 L214.8,661.7 L218.1,674.2 L221.3,673.0 L224.5,672.7 L227.7,701.2 L231.0,695.0 L234.2,704.6 L237.4,707.3 L240.7,708.2 L243.9,700.7 L247.1,632.7 L250.3,672.7 L253.6,668.4 L256.8,665.6 L260.0,658.8 L263.2,673.2 L266.5,676.6 L269.7,687.6 L272.9,693.8 L276.2,681.8 L279.4,676.7 L282.6,675.6 L285.8,665.3 L289.1,664.8 L292.3,672.8 L295.5,668.2 L298.8,673.1 L302.0,652.1 L305.2,661.2 L308.4,666.2 L311.7,666.7 L314.9,660.3 L318.1,659.5 L321.3,662.2 L324.6,670.2 L327.8,670.8 L331.0,683.3 L334.3,689.8 L337.5,689.3 L340.7,694.0 L343.9,686.6 L347.2,694.5 L350.4,692.7 L353.6,683.3 L356.8,680.6 L360.1,703.2 L363.3,705.2 L366.5,713.1 L369.8,677.9 L373.0,685.9 L376.2,679.2 L379.4,663.6 L382.7,668.7 L385.9,668.7 L389.1,671.5 L392.3,671.8 L395.6,674.5 L398.8,675.3 L402.0,669.5 L405.3,671.4 L408.5,668.2 L411.7,650.2 L414.9,649.4 L418.2,654.5 L421.4,656.3 L424.6,654.6 L427.8,644.7 L431.1,638.6 L434.3,652.7 L437.5,659.6 L440.8,655.8 L444.0,659.9 L447.2,662.7 L450.4,669.6 L453.7,675.8 L456.9,668.7 L460.1,676.1 L463.4,635.7 L466.6,633.6 L469.8,617.3 L473.0,641.0 L476.3,620.8 L479.5,617.7 L482.7,623.1 L485.9,652.9 L489.2,653.8 L492.4,658.2 L495.6,646.7 L498.9,659.8 L502.1,655.2 L505.3,653.5 L508.5,648.6 L511.8,669.6 L515.0,663.0 L518.2,661.5 L521.4,667.3 L524.7,669.3 L527.9,678.4 L531.1,679.8 L534.4,695.6 L537.6,687.8 L540.8,685.6 L544.0,682.9 L547.3,672.1 L550.5,680.0 L553.7,696.7 L557.0,682.8 L560.2,678.4 L563.4,661.3 L566.6,652.6 L569.9,662.4 L573.1,663.6 L576.3,677.5 L579.5,684.8 L582.8,685.8 L586.0,678.0 L589.2,664.7 L592.5,679.2 L595.7,679.2 L598.9,676.4 L602.1,684.5 L605.4,694.9 L608.6,702.4 L611.8,669.6 L615.0,663.9 L618.3,666.2 L621.5,679.5 L624.7,671.2 L628.0,663.0 L631.2,658.4 L634.4,653.1 L637.6,667.2 L640.9,654.4 L644.1,651.1 L647.3,659.2 L650.5,660.5 L653.8,649.1 L657.0,651.2 L660.2,641.1 L663.5,626.8 L666.7,609.6 L669.9,593.9 L673.1,593.5 L676.4,587.4 L679.6,580.5 L682.8,590.9 L686.1,584.2 L689.3,568.5 L692.5,580.1 L695.7,579.7 L699.0,578.6 L702.2,575.2 L705.4,575.2 L708.6,633.7 L711.9,637.7 L715.1,638.3 L718.3,636.2 L721.6,630.1 L724.8,646.4 L728.0,645.3 L731.2,649.9 L734.5,659.9 L737.7,667.8 L740.9,688.2 L744.1,666.0 L747.4,654.3 L750.6,666.0 L753.8,662.8 L757.1,635.4 L760.3,639.5 L763.5,646.1 L766.7,650.2 L770.0,656.9 L773.2,644.1 L776.4,643.8 L779.6,665.4 L782.9,665.6 L786.1,661.8 L789.3,664.2 L792.6,666.8 L795.8,688.6 L799.0,676.6 L802.2,686.2 L805.5,661.7 L808.7,666.8 L811.9,666.8 L815.2,682.8 L818.4,666.2 L821.6,670.9 L824.8,670.5 L828.1,684.6 L831.3,684.8 L834.5,688.6 L837.7,690.4 L841.0,675.6 L844.2,678.2 L847.4,683.5 L850.7,680.6 L853.9,681.2 L857.1,670.8 L860.3,657.3 L863.6,661.7 L866.8,655.8 L870.0,648.2 L873.2,640.2 L876.5,638.8 L879.7,655.9 L882.9,659.5 L886.2,653.9 L889.4,646.9 L892.6,649.0 L895.8,664.6 L899.1,667.2 L902.3,666.4 L905.5,686.9 L908.7,690.8 L912.0,670.7 L915.2,695.2 L918.4,687.8 L921.7,683.9 L924.9,673.0 L928.1,671.5 L931.3,676.7 L934.6,659.8 L937.8,646.4 L941.0,646.1 L944.2,659.4 L947.5,658.8 L950.7,656.7 L953.9,679.3 L957.2,674.0 L960.4,685.7 L963.6,724.9 L966.8,721.8 L970.1,699.6 L973.3,688.5 L976.5,697.5 L979.8,705.1 L983.0,711.1 L986.2,713.5 L989.4,702.8 L992.7,698.3 L995.9,682.9 L999.1,690.2 L1002.3,695.9 L1005.6,691.1 L1008.8,674.2 L1012.0,663.8 L1015.3,657.9 L1018.5,659.9 L1021.7,664.5 L1024.9,671.1 L1028.2,684.8 L1031.4,671.2 L1034.6,673.6 L1037.8,670.8 L1041.1,696.3 L1044.3,705.1 L1047.5,684.9 L1050.8,697.0 L1054.0,683.4 L1057.2,686.0 L1060.4,675.8 L1063.7,657.7 L1066.9,672.7 L1070.1,672.7 L1073.3,679.0 L1076.6,686.7 L1079.8,687.4 L1083.0,689.6 L1086.3,695.2 L1089.5,685.7 L1092.7,696.9 L1095.9,706.4 L1099.2,710.7 L1102.4,710.0 L1105.6,693.1 L1108.9,668.8 L1112.1,671.8 L1115.3,669.1 L1118.5,671.5 L1121.8,674.4 L1125.0,670.9 L1128.2,677.5 L1131.4,693.5 L1134.7,670.0 L1137.9,667.4 L1141.1,680.6 L1144.4,687.5 L1147.6,687.9 L1150.8,685.0 L1154.0,680.6 L1157.3,674.6 L1160.5,684.2 L1163.7,684.9 L1166.9,689.3 L1170.2,686.1 L1173.4,692.3 L1176.6,704.0 L1179.9,695.9 L1183.1,705.3 L1186.3,711.9 L1189.5,692.7" fill="none" stroke="#7e57c2" stroke-width="3.2" stroke-linejoin="round" stroke-linecap="round"/>
<rect x="1278" y="28" width="65" height="734" fill="#fff"/>
<line x1="1277.5" y1="28" x2="1277.5" y2="762" stroke="#dfe1e6" stroke-width="1"/>
<line x1="10" y1="557.5" x2="1343" y2="557.5" stroke="#e0e3eb" stroke-width="1"/>
<line x1="10" y1="735.5" x2="1343" y2="735.5" stroke="#e6e8ec" stroke-width="1"/>
<text x="1286.3" y="70.4" font-family="Liberation Sans, sans-serif" font-size="12" fill="#131722" textLength="35.5" lengthAdjust="spacingAndGlyphs">3.6000</text>
<text x="1286.3" y="109.9" font-family="Liberation Sans, sans-serif" font-size="12" fill="#131722" textLength="35.5" lengthAdjust="spacingAndGlyphs">3.4000</text>
<text x="1286.3" y="149.4" font-family="Liberation Sans, sans-serif" font-size="12" fill="#131722" textLength="35.5" lengthAdjust="spacingAndGlyphs">3.2000</text>
<text x="1286.3" y="189.0" font-family="Liberation Sans, sans-serif" font-size="12" fill="#131722" textLength="35.5" lengthAdjust="spacingAndGlyphs">3.0000</text>
<text x="1286.3" y="228.5" font-family="Liberation Sans, sans-serif" font-size="12" fill="#131722" textLength="35.5" lengthAdjust="spacingAndGlyphs">2.8000</text>
<text x="1286.3" y="268.1" font-family="Liberation Sans, sans-serif" font-size="12" fill="#131722" textLength="35.5" lengthAdjust="spacingAndGlyphs">2.6000</text>
<text x="1286.3" y="307.6" font-family="Liberation Sans, sans-serif" font-size="12" fill="#131722" textLength="35.5" lengthAdjust="spacingAndGlyphs">2.4000</text>
<text x="1286.3" y="347.1" font-family="Liberation Sans, sans-serif" font-size="12" fill="#131722" textLength="35.5" lengthAdjust="spacingAndGlyphs">2.2000</text>
<text x="1286.3" y="505.3" font-family="Liberation Sans, sans-serif" font-size="12" fill="#131722" textLength="35.5" lengthAdjust="spacingAndGlyphs">1.4000</text>
<text x="1286.3" y="544.8" font-family="Liberation Sans, sans-serif" font-size="12" fill="#131722" textLength="35.5" lengthAdjust="spacingAndGlyphs">1.2000</text>
<text x="1286.3" y="592.8" font-family="Liberation Sans, sans-serif" font-size="12" fill="#131722" textLength="29.3" lengthAdjust="spacingAndGlyphs">80.00</text>
<text x="1286.3" y="643.8" font-family="Liberation Sans, sans-serif" font-size="12" fill="#131722" textLength="29.3" lengthAdjust="spacingAndGlyphs">60.00</text>
<clipPath id="tl"><rect x="1278" y="60.8" width="65" height="10"/></clipPath>
<path d="M1278,46.5 H1324 Q1327,46.5 1327,49.5 V59.8 Q1327,62.8 1324,62.8 H1278 Z" fill="#0000ff" clip-path="url(#tl)"/>
<rect x="1278" y="28" width="65" height="32.8" fill="#fff"/>
<rect x="1280.5" y="30.5" width="58.5" height="26.5" rx="4" fill="#fff" stroke="#ececec" stroke-width="1"/>
<text x="1290.2" y="48.8" font-family="Liberation Sans, sans-serif" font-size="12" fill="#131722" textLength="27.5" lengthAdjust="spacingAndGlyphs">USDT</text>
<path d="M1230,342 H1277 V359 H1230 Q1227,359 1227,356 V345 Q1227,342 1230,342 Z" fill="#f23645"/>
<text x="1232" y="354.8" font-family="Liberation Sans, sans-serif" font-size="12" font-weight="bold" fill="#fff" textLength="40.5" lengthAdjust="spacingAndGlyphs">SMA:MA</text>
<path d="M1278,342 H1324 Q1327,342 1327,345 V356 Q1327,359 1324,359 H1278 Z" fill="#f23645"/>
<text x="1286.3" y="354.8" font-family="Liberation Sans, sans-serif" font-size="12" font-weight="bold" fill="#fff" textLength="35.5" lengthAdjust="spacingAndGlyphs">2.1594</text>
<path d="M1249,374 H1277 V391 H1249 Q1246,391 1246,388 V377 Q1246,374 1249,374 Z" fill="#2962ff"/>
<text x="1251" y="386.8" font-family="Liberation Sans, sans-serif" font-size="12" font-weight="bold" fill="#fff" textLength="21.5" lengthAdjust="spacingAndGlyphs">EMA</text>
<path d="M1278,374 H1324 Q1327,374 1327,377 V388 Q1327,391 1324,391 H1278 Z" fill="#2962ff"/>
<text x="1286.3" y="386.8" font-family="Liberation Sans, sans-serif" font-size="12" font-weight="bold" fill="#fff" textLength="35.5" lengthAdjust="spacingAndGlyphs">2.0019</text>
<path d="M1223.5,396 H1277 V413 H1223.5 Q1220.5,413 1220.5,410 V399 Q1220.5,396 1223.5,396 Z" fill="#26a69a"/>
<text x="1225" y="408.8" font-family="Liberation Sans, sans-serif" font-size="12" font-weight="bold" fill="#fff" textLength="47.5" lengthAdjust="spacingAndGlyphs">XRPUSDT</text>
<path d="M1278,396 H1335 Q1338,396 1338,399 V438 Q1338,441 1335,441 H1278 Z" fill="#26a69a"/>
<text x="1286.3" y="408.8" font-family="Liberation Sans, sans-serif" font-size="12" font-weight="bold" fill="#fff" textLength="35.5" lengthAdjust="spacingAndGlyphs">1.8901</text>
<text x="1286.3" y="422.8" font-family="Liberation Sans, sans-serif" font-size="12" font-weight="bold" fill="#fff" textLength="42.5" lengthAdjust="spacingAndGlyphs">−18.18%</text>
<text x="1286.3" y="436.8" font-family="Liberation Sans, sans-serif" font-size="12" font-weight="bold" fill="#fff" fill-opacity="0.75" textLength="46" lengthAdjust="spacingAndGlyphs">06:58:57</text>
<path d="M1278,451 H1324 Q1327,451 1327,454 V465 Q1327,468 1324,468 H1278 Z" fill="#0000ff"/>
<text x="1286.3" y="463.8" font-family="Liberation Sans, sans-serif" font-size="12" font-weight="bold" fill="#fff" textLength="35.5" lengthAdjust="spacingAndGlyphs">1.6100</text>
<path d="M1201,668 H1277 V685 H1201 Q1198,685 1198,682 V671 Q1198,668 1201,668 Z" fill="#fdd835"/>
<text x="1203" y="680.8" font-family="Liberation Sans, sans-serif" font-size="12" font-weight="normal" fill="#131722" textLength="69.5" lengthAdjust="spacingAndGlyphs">RSI-based MA</text>
<path d="M1278,668 H1317.5 Q1320.5,668 1320.5,671 V682 Q1320.5,685 1317.5,685 H1278 Z" fill="#fdd835"/>
<text x="1286.3" y="680.8" font-family="Liberation Sans, sans-serif" font-size="12" font-weight="normal" fill="#131722" textLength="29.3" lengthAdjust="spacingAndGlyphs">39.78</text>
<path d="M1255,685.3 H1277 V702 H1255 Q1252,702 1252,699 V688.3 Q1252,685.3 1255,685.3 Z" fill="#7e57c2"/>
<text x="1257" y="697.9" font-family="Liberation Sans, sans-serif" font-size="12" font-weight="bold" fill="#fff" textLength="16" lengthAdjust="spacingAndGlyphs">RSI</text>
<path d="M1278,685.3 H1317.5 Q1320.5,685.3 1320.5,688.3 V699 Q1320.5,702 1317.5,702 H1278 Z" fill="#7e57c2"/>
<text x="1286.3" y="697.9" font-family="Liberation Sans, sans-serif" font-size="12" font-weight="bold" fill="#fff" textLength="29.3" lengthAdjust="spacingAndGlyphs">39.12</text>
<line x1="1277.5" y1="342" x2="1277.5" y2="359" stroke="#fff" stroke-opacity="0.6" stroke-width="1"/>
<line x1="1277.5" y1="374" x2="1277.5" y2="391" stroke="#fff" stroke-opacity="0.6" stroke-width="1"/>
<line x1="1277.5" y1="396" x2="1277.5" y2="413" stroke="#fff" stroke-opacity="0.6" stroke-width="1"/>
<line x1="1277.5" y1="668" x2="1277.5" y2="685" stroke="#fff" stroke-opacity="0.6" stroke-width="1"/>
<line x1="1277.5" y1="685.3" x2="1277.5" y2="702" stroke="#fff" stroke-opacity="0.6" stroke-width="1"/>
<text x="53.5" y="752.8" font-family="Liberation Sans, sans-serif" font-size="12" fill="#131722" text-anchor="middle" stroke="#131722" stroke-width="0.45" textLength="26.2" lengthAdjust="spacingAndGlyphs">2025</text>
<text x="153.5" y="752.8" font-family="Liberation Sans, sans-serif" font-size="12" fill="#131722" text-anchor="middle" textLength="18.6" lengthAdjust="spacingAndGlyphs">Feb</text>
<text x="243.9" y="752.8" font-family="Liberation Sans, sans-serif" font-size="12" fill="#131722" text-anchor="middle" textLength="18.8" lengthAdjust="spacingAndGlyphs">Mar</text>
<text x="343.9" y="752.8" font-family="Liberation Sans, sans-serif" font-size="12" fill="#131722" text-anchor="middle">Apr</text>
<text x="440.8" y="752.8" font-family="Liberation Sans, sans-serif" font-size="12" fill="#131722" text-anchor="middle">May</text>
<text x="540.8" y="752.8" font-family="Liberation Sans, sans-serif" font-size="12" fill="#131722" text-anchor="middle">Jun</text>
<text x="637.6" y="752.8" font-family="Liberation Sans, sans-serif" font-size="12" fill="#131722" text-anchor="middle">Jul</text>
<text x="737.7" y="752.8" font-family="Liberation Sans, sans-serif" font-size="12" fill="#131722" text-anchor="middle">Aug</text>
<text x="837.7" y="752.8" font-family="Liberation Sans, sans-serif" font-size="12" fill="#131722" text-anchor="middle">Sep</text>
<text x="934.6" y="752.8" font-family="Liberation Sans, sans-serif" font-size="12" fill="#131722" text-anchor="middle">Oct</text>
<text x="1034.6" y="752.8" font-family="Liberation Sans, sans-serif" font-size="12" fill="#131722" text-anchor="middle">Nov</text>
<text x="1131.4" y="752.8" font-family="Liberation Sans, sans-serif" font-size="12" fill="#131722" text-anchor="middle">Dec</text>
<text x="1231.5" y="752.8" font-family="Liberation Sans, sans-serif" font-size="12" fill="#131722" text-anchor="middle" stroke="#131722" stroke-width="0.45" textLength="26.2" lengthAdjust="spacingAndGlyphs">2026</text>
<rect x="10" y="27" width="1333" height="736" fill="none" stroke="#f2f2f4" stroke-width="2"/>
<text x="10.3" y="18.6" font-family="Liberation Sans, sans-serif" font-size="12" font-weight="normal" fill="#131722" textLength="58.4" lengthAdjust="spacingAndGlyphs">ranadagger</text>
<text x="73.9" y="18.6" font-family="Liberation Sans, sans-serif" font-size="12" font-weight="normal" fill="#131722" textLength="40.2" lengthAdjust="spacingAndGlyphs">created</text>
<text x="119" y="18.6" font-family="Liberation Sans, sans-serif" font-size="12" font-weight="normal" fill="#131722" textLength="22.9" lengthAdjust="spacingAndGlyphs">with</text>
<text x="146.8" y="18.6" font-family="Liberation Sans, sans-serif" font-size="12" font-weight="normal" fill="#131722" textLength="93.5" lengthAdjust="spacingAndGlyphs">TradingView.com,</text>
<text x="245" y="18.6" font-family="Liberation Sans, sans-serif" font-size="12" font-weight="normal" fill="#131722" textLength="18.5" lengthAdjust="spacingAndGlyphs">Dec</text>
<text x="270.3" y="18.6" font-family="Liberation Sans, sans-serif" font-size="12" font-weight="normal" fill="#131722" textLength="13.6" lengthAdjust="spacingAndGlyphs">19,</text>
<text x="289.3" y="18.6" font-family="Liberation Sans, sans-serif" font-size="12" font-weight="normal" fill="#131722" textLength="23.4" lengthAdjust="spacingAndGlyphs">2025</text>
<text x="319.5" y="18.6" font-family="Liberation Sans, sans-serif" font-size="12" font-weight="normal" fill="#131722" textLength="26" lengthAdjust="spacingAndGlyphs">17:01</text>
<text x="351.1" y="18.6" font-family="Liberation Sans, sans-serif" font-size="12" font-weight="normal" fill="#131722" textLength="20.7" lengthAdjust="spacingAndGlyphs">UTC</text>
<text x="17.9" y="45.8" font-family="Liberation Sans, sans-serif" font-size="12" font-weight="normal" fill="#131722" textLength="20.5" lengthAdjust="spacingAndGlyphs">XRP</text>
<text x="43.4" y="45.8" font-family="Liberation Sans, sans-serif" font-size="12" font-weight="normal" fill="#131722" textLength="4.3" lengthAdjust="spacingAndGlyphs">/</text>
<text x="53.2" y="45.8" font-family="Liberation Sans, sans-serif" font-size="12" font-weight="normal" fill="#131722" textLength="46.6" lengthAdjust="spacingAndGlyphs">TetherUS</text>
<text x="104.2" y="45.8" font-family="Liberation Sans, sans-serif" font-size="12" font-weight="normal" fill="#131722" textLength="2.8" lengthAdjust="spacingAndGlyphs">·</text>
<text x="111.8" y="45.8" font-family="Liberation Sans, sans-serif" font-size="12" font-weight="normal" fill="#131722" textLength="12.4" lengthAdjust="spacingAndGlyphs">1D</text>
<text x="129.8" y="45.8" font-family="Liberation Sans, sans-serif" font-size="12" font-weight="normal" fill="#131722" textLength="2.8" lengthAdjust="spacingAndGlyphs">·</text>
<text x="137.2" y="45.8" font-family="Liberation Sans, sans-serif" font-size="12" font-weight="normal" fill="#131722" textLength="40.6" lengthAdjust="spacingAndGlyphs">Binance</text>
<text x="186.4" y="45.8" font-family="Liberation Sans, sans-serif" font-size="12" font-weight="normal" fill="#131722" textLength="7.8" lengthAdjust="spacingAndGlyphs">O</text>
<text x="194.9" y="45.8" font-family="Liberation Sans, sans-serif" font-size="12" font-weight="normal" fill="#26a69a" textLength="34.4" lengthAdjust="spacingAndGlyphs">1.8076</text>
<text x="238" y="45.8" font-family="Liberation Sans, sans-serif" font-size="12" font-weight="normal" fill="#131722" textLength="7.3" lengthAdjust="spacingAndGlyphs">H</text>
<text x="246.4" y="45.8" font-family="Liberation Sans, sans-serif" font-size="12" font-weight="normal" fill="#26a69a" textLength="33.7" lengthAdjust="spacingAndGlyphs">1.9050</text>
<text x="288.8" y="45.8" font-family="Liberation Sans, sans-serif" font-size="12" font-weight="normal" fill="#131722" textLength="5" lengthAdjust="spacingAndGlyphs">L</text>
<text x="295" y="45.8" font-family="Liberation Sans, sans-serif" font-size="12" font-weight="normal" fill="#26a69a" textLength="33.9" lengthAdjust="spacingAndGlyphs">1.7711</text>
<text x="338.1" y="45.8" font-family="Liberation Sans, sans-serif" font-size="12" font-weight="normal" fill="#131722" textLength="6.4" lengthAdjust="spacingAndGlyphs">C</text>
<text x="345.4" y="45.8" font-family="Liberation Sans, sans-serif" font-size="12" font-weight="normal" fill="#26a69a" textLength="33.9" lengthAdjust="spacingAndGlyphs">1.8901</text>
<text x="388.5" y="45.8" font-family="Liberation Sans, sans-serif" font-size="12" font-weight="normal" fill="#26a69a" textLength="40.1" lengthAdjust="spacingAndGlyphs">+0.0825</text>
<text x="434.3" y="45.8" font-family="Liberation Sans, sans-serif" font-size="12" font-weight="normal" fill="#26a69a" textLength="44.7" lengthAdjust="spacingAndGlyphs">(+4.56%)</text>
<text x="17.9" y="62.6" font-family="Liberation Sans, sans-serif" font-size="12" font-weight="normal" fill="#131722" textLength="21.3" lengthAdjust="spacingAndGlyphs">EMA</text>
<text x="44.4" y="62.6" font-family="Liberation Sans, sans-serif" font-size="12" font-weight="normal" fill="#131722" textLength="20.3" lengthAdjust="spacingAndGlyphs">(20,</text>
<text x="68.8" y="62.6" font-family="Liberation Sans, sans-serif" font-size="12" font-weight="normal" fill="#131722" textLength="31" lengthAdjust="spacingAndGlyphs">close)</text>
<text x="17.9" y="79.6" font-family="Liberation Sans, sans-serif" font-size="12" font-weight="normal" fill="#131722" textLength="21.3" lengthAdjust="spacingAndGlyphs">SMA</text>
<text x="44.4" y="79.6" font-family="Liberation Sans, sans-serif" font-size="12" font-weight="normal" fill="#131722" textLength="20.3" lengthAdjust="spacingAndGlyphs">(50,</text>
<text x="68.8" y="79.6" font-family="Liberation Sans, sans-serif" font-size="12" font-weight="normal" fill="#131722" textLength="31" lengthAdjust="spacingAndGlyphs">close)</text>
<text x="108.3" y="62.6" font-family="Liberation Sans, sans-serif" font-size="12" font-weight="normal" fill="#2962ff" textLength="34.5" lengthAdjust="spacingAndGlyphs">2.0019</text>
<text x="108" y="79.6" font-family="Liberation Sans, sans-serif" font-size="12" font-weight="normal" fill="#f23645" textLength="34.5" lengthAdjust="spacingAndGlyphs">2.1594</text>
<text x="18.5" y="577.3" font-family="Liberation Sans, sans-serif" font-size="12" font-weight="normal" fill="#131722" textLength="14.8" lengthAdjust="spacingAndGlyphs">RSI</text>
<text x="38.4" y="577.3" font-family="Liberation Sans, sans-serif" font-size="12" font-weight="normal" fill="#131722" textLength="20.4" lengthAdjust="spacingAndGlyphs">(14,</text>
<text x="62.8" y="577.3" font-family="Liberation Sans, sans-serif" font-size="12" font-weight="normal" fill="#131722" textLength="30.9" lengthAdjust="spacingAndGlyphs">close)</text>
<text x="102.5" y="577.3" font-family="Liberation Sans, sans-serif" font-size="12" font-weight="normal" fill="#7e57c2" textLength="28" lengthAdjust="spacingAndGlyphs">39.12</text>
<text x="139" y="577.3" font-family="Liberation Sans, sans-serif" font-size="12" font-weight="normal" fill="#fdd835" textLength="28.4" lengthAdjust="spacingAndGlyphs">39.78</text>
<path d="M12,785 H24 V799.8 H18.05 V790.8 H12 Z" fill="#111"/>
<circle cx="28.95" cy="787.9" r="2.95" fill="#111"/>
<path d="M35.05,785 H41.9 L35.95,799.8 H29.05 Z" fill="#111"/>
<text x="49.3" y="799.9" font-family="Liberation Sans, sans-serif" font-size="20.5" font-weight="bold" fill="#111" textLength="120.4" lengthAdjust="spacingAndGlyphs">TradingView</text>
</svg>
</body></html>
